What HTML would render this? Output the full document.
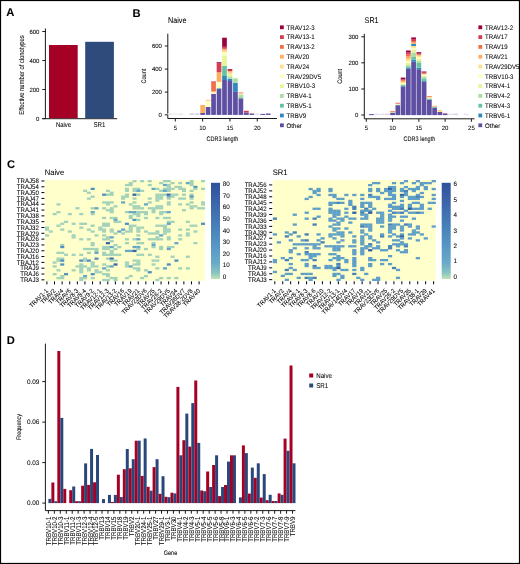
<!DOCTYPE html>
<html><head><meta charset="utf-8"><style>
html,body{margin:0;padding:0;background:#fff;}
body{width:520px;height:564px;overflow:hidden;}
svg{display:block;font-family:"Liberation Sans", sans-serif;will-change:transform;} text{stroke:#000;stroke-width:0.06px;}
</style></head><body>
<svg width="520" height="564" viewBox="0 0 520 564" shape-rendering="auto" text-rendering="geometricPrecision">
<rect x="0" y="0" width="520" height="564" fill="#fff"/>
<text transform="translate(6.30,16.40)" font-size="11.2" text-anchor="start" font-weight="bold" fill="#000">A</text>
<line x1="45.40" y1="28.50" x2="45.40" y2="118.70" stroke="#1a1a1a" stroke-width="1.0"/>
<line x1="42.30" y1="118.70" x2="117.20" y2="118.70" stroke="#1a1a1a" stroke-width="1.0"/>
<line x1="42.30" y1="31.50" x2="45.40" y2="31.50" stroke="#1a1a1a" stroke-width="1.0"/>
<text transform="translate(39.40,33.60) scale(0.97,1)" font-size="6.2" text-anchor="end" fill="#000">600</text>
<line x1="42.30" y1="60.50" x2="45.40" y2="60.50" stroke="#1a1a1a" stroke-width="1.0"/>
<text transform="translate(39.40,62.60) scale(0.97,1)" font-size="6.2" text-anchor="end" fill="#000">400</text>
<line x1="42.30" y1="89.50" x2="45.40" y2="89.50" stroke="#1a1a1a" stroke-width="1.0"/>
<text transform="translate(39.40,91.60) scale(0.97,1)" font-size="6.2" text-anchor="end" fill="#000">200</text>
<line x1="42.30" y1="118.60" x2="45.40" y2="118.60" stroke="#1a1a1a" stroke-width="1.0"/>
<text transform="translate(39.40,120.70) scale(0.97,1)" font-size="6.2" text-anchor="end" fill="#000">0</text>
<rect x="49.00" y="45.00" width="28.70" height="73.20" fill="#a50026"/>
<rect x="85.20" y="41.80" width="28.70" height="76.40" fill="#2f4b7c"/>
<text transform="translate(63.50,127.10) scale(0.85,1)" font-size="7.0" text-anchor="middle" fill="#000">Naive</text>
<text transform="translate(99.50,127.10) scale(0.88,1)" font-size="7.0" text-anchor="middle" fill="#000">SR1</text>
<text transform="translate(23.80,75.00) rotate(-90) scale(0.83,1)" font-size="7.0" text-anchor="middle" fill="#000">Effective number of clonotypes</text>
<text transform="translate(132.60,16.90)" font-size="11.2" text-anchor="start" font-weight="bold" fill="#000">B</text>
<text transform="translate(168.00,22.80) scale(0.88,1)" font-size="8.2" text-anchor="start" fill="#000">Naive</text>
<line x1="167.80" y1="33.70" x2="167.80" y2="118.50" stroke="#1a1a1a" stroke-width="1.0"/>
<line x1="167.80" y1="118.50" x2="277.00" y2="118.50" stroke="#1a1a1a" stroke-width="1.0"/>
<line x1="164.80" y1="46.00" x2="167.80" y2="46.00" stroke="#1a1a1a" stroke-width="1.0"/>
<text transform="translate(161.90,48.10) scale(0.97,1)" font-size="6.2" text-anchor="end" fill="#000">600</text>
<line x1="164.80" y1="69.10" x2="167.80" y2="69.10" stroke="#1a1a1a" stroke-width="1.0"/>
<text transform="translate(161.90,71.20) scale(0.97,1)" font-size="6.2" text-anchor="end" fill="#000">400</text>
<line x1="164.80" y1="92.10" x2="167.80" y2="92.10" stroke="#1a1a1a" stroke-width="1.0"/>
<text transform="translate(161.90,94.20) scale(0.97,1)" font-size="6.2" text-anchor="end" fill="#000">200</text>
<line x1="164.80" y1="114.80" x2="167.80" y2="114.80" stroke="#1a1a1a" stroke-width="1.0"/>
<text transform="translate(161.90,116.90) scale(0.97,1)" font-size="6.2" text-anchor="end" fill="#000">0</text>
<line x1="175.30" y1="118.50" x2="175.30" y2="121.50" stroke="#1a1a1a" stroke-width="1.0"/>
<text transform="translate(175.30,130.20) scale(0.97,1)" font-size="6.2" text-anchor="middle" fill="#000">5</text>
<line x1="202.62" y1="118.50" x2="202.62" y2="121.50" stroke="#1a1a1a" stroke-width="1.0"/>
<text transform="translate(202.62,130.20) scale(0.97,1)" font-size="6.2" text-anchor="middle" fill="#000">10</text>
<line x1="229.95" y1="118.50" x2="229.95" y2="121.50" stroke="#1a1a1a" stroke-width="1.0"/>
<text transform="translate(229.95,130.20) scale(0.97,1)" font-size="6.2" text-anchor="middle" fill="#000">15</text>
<line x1="257.27" y1="118.50" x2="257.27" y2="121.50" stroke="#1a1a1a" stroke-width="1.0"/>
<text transform="translate(257.27,130.20) scale(0.97,1)" font-size="6.2" text-anchor="middle" fill="#000">20</text>
<text transform="translate(222.40,140.90) scale(0.84,1)" font-size="6.6" text-anchor="middle" fill="#000">CDR3 length</text>
<text transform="translate(145.60,76.10) rotate(-90) scale(0.84,1)" font-size="6.6" text-anchor="middle" fill="#000">Count</text>
<rect x="167.49" y="113.40" width="4.70" height="1.50" fill="#e6e2f0"/>
<rect x="172.95" y="113.40" width="4.70" height="1.50" fill="#f2f0dc"/>
<rect x="178.42" y="113.40" width="4.70" height="1.50" fill="#e8e5f2"/>
<rect x="189.35" y="113.30" width="4.70" height="1.60" fill="#d6d2e8"/>
<rect x="194.81" y="113.30" width="4.70" height="1.60" fill="#d6d2e8"/>
<rect x="254.92" y="113.40" width="4.70" height="1.50" fill="#e3e0ef"/>
<rect x="200.28" y="113.00" width="4.70" height="1.90" fill="#5e4fa2"/>
<rect x="200.28" y="105.00" width="4.70" height="8.00" fill="#fdae61"/>
<rect x="205.74" y="107.00" width="4.70" height="7.90" fill="#5e4fa2"/>
<rect x="205.74" y="101.00" width="4.70" height="6.00" fill="#ffffbf"/>
<rect x="205.74" y="100.40" width="4.70" height="0.60" fill="#fee08b"/>
<rect x="205.74" y="99.80" width="4.70" height="0.60" fill="#fdae61"/>
<rect x="211.21" y="93.80" width="4.70" height="21.10" fill="#5e4fa2"/>
<rect x="211.21" y="92.50" width="4.70" height="1.30" fill="#ffffbf"/>
<rect x="211.21" y="91.40" width="4.70" height="1.10" fill="#fee08b"/>
<rect x="211.21" y="82.70" width="4.70" height="8.70" fill="#f46d43"/>
<rect x="211.21" y="81.40" width="4.70" height="1.30" fill="#d53e4f"/>
<rect x="216.67" y="88.70" width="4.70" height="26.20" fill="#5e4fa2"/>
<rect x="216.67" y="88.00" width="4.70" height="0.70" fill="#66c2a5"/>
<rect x="216.67" y="81.90" width="4.70" height="6.10" fill="#ffffbf"/>
<rect x="216.67" y="72.30" width="4.70" height="9.60" fill="#fdae61"/>
<rect x="216.67" y="63.50" width="4.70" height="8.80" fill="#d53e4f"/>
<rect x="216.67" y="62.20" width="4.70" height="1.30" fill="#9e0142"/>
<rect x="222.14" y="80.00" width="4.70" height="34.90" fill="#5e4fa2"/>
<rect x="222.14" y="76.00" width="4.70" height="4.00" fill="#3288bd"/>
<rect x="222.14" y="65.90" width="4.70" height="10.10" fill="#66c2a5"/>
<rect x="222.14" y="55.50" width="4.70" height="10.40" fill="#e6f598"/>
<rect x="222.14" y="52.30" width="4.70" height="3.20" fill="#ffffbf"/>
<rect x="222.14" y="50.70" width="4.70" height="1.60" fill="#fee08b"/>
<rect x="222.14" y="48.80" width="4.70" height="1.90" fill="#fdae61"/>
<rect x="222.14" y="46.80" width="4.70" height="2.00" fill="#d53e4f"/>
<rect x="222.14" y="37.70" width="4.70" height="9.10" fill="#9e0142"/>
<rect x="227.60" y="81.00" width="4.70" height="33.90" fill="#5e4fa2"/>
<rect x="227.60" y="78.70" width="4.70" height="2.30" fill="#3288bd"/>
<rect x="227.60" y="76.30" width="4.70" height="2.40" fill="#abdda4"/>
<rect x="227.60" y="74.30" width="4.70" height="2.00" fill="#e6f598"/>
<rect x="227.60" y="72.50" width="4.70" height="1.80" fill="#fee08b"/>
<rect x="227.60" y="71.00" width="4.70" height="1.50" fill="#fdae61"/>
<rect x="227.60" y="69.80" width="4.70" height="1.20" fill="#d53e4f"/>
<rect x="227.60" y="69.00" width="4.70" height="0.80" fill="#9e0142"/>
<rect x="233.07" y="91.90" width="4.70" height="23.00" fill="#5e4fa2"/>
<rect x="233.07" y="82.70" width="4.70" height="9.20" fill="#3288bd"/>
<rect x="233.07" y="78.20" width="4.70" height="4.50" fill="#abdda4"/>
<rect x="233.07" y="77.40" width="4.70" height="0.80" fill="#ffffbf"/>
<rect x="238.53" y="98.40" width="4.70" height="16.50" fill="#5e4fa2"/>
<rect x="238.53" y="97.20" width="4.70" height="1.20" fill="#66c2a5"/>
<rect x="238.53" y="94.50" width="4.70" height="2.70" fill="#abdda4"/>
<rect x="238.53" y="93.60" width="4.70" height="0.90" fill="#e6f598"/>
<rect x="238.53" y="93.00" width="4.70" height="0.60" fill="#fdae61"/>
<rect x="238.53" y="92.60" width="4.70" height="0.40" fill="#d53e4f"/>
<rect x="244.00" y="112.50" width="4.70" height="2.40" fill="#5e4fa2"/>
<rect x="244.00" y="110.80" width="4.70" height="1.70" fill="#d53e4f"/>
<rect x="249.46" y="113.40" width="4.70" height="1.50" fill="#5e4fa2"/>
<rect x="249.46" y="113.00" width="4.70" height="0.40" fill="#fdae61"/>
<rect x="260.39" y="113.90" width="4.70" height="1.00" fill="#5e4fa2"/>
<rect x="265.86" y="113.50" width="4.70" height="1.40" fill="#5e4fa2"/>
<rect x="280.00" y="25.40" width="3.80" height="3.80" fill="#9e0142"/>
<text transform="translate(286.60,29.50) scale(0.925,1)" font-size="6.6" text-anchor="start" fill="#000">TRAV12-3</text>
<rect x="280.00" y="35.20" width="3.80" height="3.80" fill="#d53e4f"/>
<text transform="translate(286.60,39.30) scale(0.925,1)" font-size="6.6" text-anchor="start" fill="#000">TRAV13-1</text>
<rect x="280.00" y="45.00" width="3.80" height="3.80" fill="#f46d43"/>
<text transform="translate(286.60,49.10) scale(0.925,1)" font-size="6.6" text-anchor="start" fill="#000">TRAV13-2</text>
<rect x="280.00" y="54.80" width="3.80" height="3.80" fill="#fdae61"/>
<text transform="translate(286.60,58.90) scale(0.925,1)" font-size="6.6" text-anchor="start" fill="#000">TRAV20</text>
<rect x="280.00" y="64.60" width="3.80" height="3.80" fill="#fee08b"/>
<text transform="translate(286.60,68.70) scale(0.925,1)" font-size="6.6" text-anchor="start" fill="#000">TRAV24</text>
<rect x="280.00" y="74.40" width="3.80" height="3.80" fill="#ffffbf"/>
<text transform="translate(286.60,78.50) scale(0.925,1)" font-size="6.6" text-anchor="start" fill="#000">TRAV29DV5</text>
<rect x="280.00" y="84.20" width="3.80" height="3.80" fill="#e6f598"/>
<text transform="translate(286.60,88.30) scale(0.925,1)" font-size="6.6" text-anchor="start" fill="#000">TRBV10-3</text>
<rect x="280.00" y="94.00" width="3.80" height="3.80" fill="#abdda4"/>
<text transform="translate(286.60,98.10) scale(0.925,1)" font-size="6.6" text-anchor="start" fill="#000">TRBV4-1</text>
<rect x="280.00" y="103.80" width="3.80" height="3.80" fill="#66c2a5"/>
<text transform="translate(286.60,107.90) scale(0.925,1)" font-size="6.6" text-anchor="start" fill="#000">TRBV5-1</text>
<rect x="280.00" y="113.60" width="3.80" height="3.80" fill="#3288bd"/>
<text transform="translate(286.60,117.70) scale(0.925,1)" font-size="6.6" text-anchor="start" fill="#000">TRBV9</text>
<rect x="280.00" y="123.40" width="3.80" height="3.80" fill="#5e4fa2"/>
<text transform="translate(286.60,127.50) scale(0.925,1)" font-size="6.6" text-anchor="start" fill="#000">Other</text>
<text transform="translate(364.60,22.80) scale(0.88,1)" font-size="8.2" text-anchor="start" fill="#000">SR1</text>
<line x1="364.30" y1="33.80" x2="364.30" y2="118.80" stroke="#1a1a1a" stroke-width="1.0"/>
<line x1="364.30" y1="118.80" x2="474.50" y2="118.80" stroke="#1a1a1a" stroke-width="1.0"/>
<line x1="361.30" y1="36.80" x2="364.30" y2="36.80" stroke="#1a1a1a" stroke-width="1.0"/>
<text transform="translate(358.40,38.90) scale(0.97,1)" font-size="6.2" text-anchor="end" fill="#000">300</text>
<line x1="361.30" y1="62.80" x2="364.30" y2="62.80" stroke="#1a1a1a" stroke-width="1.0"/>
<text transform="translate(358.40,64.90) scale(0.97,1)" font-size="6.2" text-anchor="end" fill="#000">200</text>
<line x1="361.30" y1="89.00" x2="364.30" y2="89.00" stroke="#1a1a1a" stroke-width="1.0"/>
<text transform="translate(358.40,91.10) scale(0.97,1)" font-size="6.2" text-anchor="end" fill="#000">100</text>
<line x1="361.30" y1="115.00" x2="364.30" y2="115.00" stroke="#1a1a1a" stroke-width="1.0"/>
<text transform="translate(358.40,117.10) scale(0.97,1)" font-size="6.2" text-anchor="end" fill="#000">0</text>
<line x1="366.30" y1="118.80" x2="366.30" y2="121.80" stroke="#1a1a1a" stroke-width="1.0"/>
<text transform="translate(366.30,130.20) scale(0.97,1)" font-size="6.2" text-anchor="middle" fill="#000">5</text>
<line x1="392.57" y1="118.80" x2="392.57" y2="121.80" stroke="#1a1a1a" stroke-width="1.0"/>
<text transform="translate(392.57,130.20) scale(0.97,1)" font-size="6.2" text-anchor="middle" fill="#000">10</text>
<line x1="418.85" y1="118.80" x2="418.85" y2="121.80" stroke="#1a1a1a" stroke-width="1.0"/>
<text transform="translate(418.85,130.20) scale(0.97,1)" font-size="6.2" text-anchor="middle" fill="#000">15</text>
<line x1="445.12" y1="118.80" x2="445.12" y2="121.80" stroke="#1a1a1a" stroke-width="1.0"/>
<text transform="translate(445.12,130.20) scale(0.97,1)" font-size="6.2" text-anchor="middle" fill="#000">20</text>
<line x1="471.40" y1="118.80" x2="471.40" y2="121.80" stroke="#1a1a1a" stroke-width="1.0"/>
<text transform="translate(471.40,130.20) scale(0.97,1)" font-size="6.2" text-anchor="middle" fill="#000">25</text>
<text transform="translate(419.40,140.90) scale(0.84,1)" font-size="6.6" text-anchor="middle" fill="#000">CDR3 length</text>
<text transform="translate(342.40,76.30) rotate(-90) scale(0.84,1)" font-size="6.6" text-anchor="middle" fill="#000">Count</text>
<rect x="374.46" y="113.60" width="4.70" height="1.50" fill="#e3e0ef"/>
<rect x="379.71" y="113.60" width="4.70" height="1.50" fill="#e3e0ef"/>
<rect x="384.97" y="113.50" width="4.70" height="1.60" fill="#ecd0da"/>
<rect x="448.03" y="113.60" width="4.70" height="1.50" fill="#e3e0ef"/>
<rect x="453.28" y="113.50" width="4.70" height="1.60" fill="#d8d4ea"/>
<rect x="463.79" y="113.60" width="4.70" height="1.50" fill="#e3e0ef"/>
<rect x="369.20" y="114.10" width="4.70" height="1.00" fill="#5e4fa2"/>
<rect x="390.22" y="113.00" width="4.70" height="2.10" fill="#5e4fa2"/>
<rect x="390.22" y="112.40" width="4.70" height="0.60" fill="#66c2a5"/>
<rect x="390.22" y="111.80" width="4.70" height="0.60" fill="#fee08b"/>
<rect x="390.22" y="111.00" width="4.70" height="0.80" fill="#f46d43"/>
<rect x="395.48" y="105.20" width="4.70" height="9.90" fill="#5e4fa2"/>
<rect x="395.48" y="104.60" width="4.70" height="0.60" fill="#66c2a5"/>
<rect x="395.48" y="104.00" width="4.70" height="0.60" fill="#ffffbf"/>
<rect x="395.48" y="103.40" width="4.70" height="0.60" fill="#fdae61"/>
<rect x="395.48" y="102.80" width="4.70" height="0.60" fill="#d53e4f"/>
<rect x="400.74" y="86.60" width="4.70" height="28.50" fill="#5e4fa2"/>
<rect x="400.74" y="86.00" width="4.70" height="0.60" fill="#3288bd"/>
<rect x="400.74" y="85.00" width="4.70" height="1.00" fill="#66c2a5"/>
<rect x="400.74" y="84.00" width="4.70" height="1.00" fill="#e6f598"/>
<rect x="400.74" y="83.00" width="4.70" height="1.00" fill="#ffffbf"/>
<rect x="400.74" y="82.00" width="4.70" height="1.00" fill="#fee08b"/>
<rect x="400.74" y="80.80" width="4.70" height="1.20" fill="#fdae61"/>
<rect x="400.74" y="79.50" width="4.70" height="1.30" fill="#f46d43"/>
<rect x="400.74" y="77.60" width="4.70" height="1.90" fill="#9e0142"/>
<rect x="405.99" y="68.70" width="4.70" height="46.40" fill="#5e4fa2"/>
<rect x="405.99" y="68.00" width="4.70" height="0.70" fill="#3288bd"/>
<rect x="405.99" y="67.00" width="4.70" height="1.00" fill="#66c2a5"/>
<rect x="405.99" y="65.00" width="4.70" height="2.00" fill="#abdda4"/>
<rect x="405.99" y="63.00" width="4.70" height="2.00" fill="#e6f598"/>
<rect x="405.99" y="61.00" width="4.70" height="2.00" fill="#ffffbf"/>
<rect x="405.99" y="58.80" width="4.70" height="2.20" fill="#fee08b"/>
<rect x="405.99" y="56.50" width="4.70" height="2.30" fill="#fdae61"/>
<rect x="405.99" y="54.50" width="4.70" height="2.00" fill="#f46d43"/>
<rect x="405.99" y="52.50" width="4.70" height="2.00" fill="#d53e4f"/>
<rect x="405.99" y="50.50" width="4.70" height="2.00" fill="#9e0142"/>
<rect x="411.25" y="61.80" width="4.70" height="53.30" fill="#5e4fa2"/>
<rect x="411.25" y="59.50" width="4.70" height="2.30" fill="#3288bd"/>
<rect x="411.25" y="57.00" width="4.70" height="2.50" fill="#66c2a5"/>
<rect x="411.25" y="52.50" width="4.70" height="4.50" fill="#abdda4"/>
<rect x="411.25" y="49.50" width="4.70" height="3.00" fill="#e6f598"/>
<rect x="411.25" y="47.80" width="4.70" height="1.70" fill="#ffffbf"/>
<rect x="411.25" y="46.00" width="4.70" height="1.80" fill="#fee08b"/>
<rect x="411.25" y="43.80" width="4.70" height="2.20" fill="#3288bd"/>
<rect x="411.25" y="42.50" width="4.70" height="1.30" fill="#fdae61"/>
<rect x="411.25" y="41.00" width="4.70" height="1.50" fill="#f46d43"/>
<rect x="411.25" y="39.00" width="4.70" height="2.00" fill="#d53e4f"/>
<rect x="411.25" y="37.40" width="4.70" height="1.60" fill="#9e0142"/>
<rect x="416.50" y="69.20" width="4.70" height="45.90" fill="#5e4fa2"/>
<rect x="416.50" y="67.80" width="4.70" height="1.40" fill="#3288bd"/>
<rect x="416.50" y="63.00" width="4.70" height="4.80" fill="#66c2a5"/>
<rect x="416.50" y="61.00" width="4.70" height="2.00" fill="#abdda4"/>
<rect x="416.50" y="58.50" width="4.70" height="2.50" fill="#e6f598"/>
<rect x="416.50" y="57.00" width="4.70" height="1.50" fill="#ffffbf"/>
<rect x="416.50" y="55.80" width="4.70" height="1.20" fill="#fee08b"/>
<rect x="416.50" y="54.80" width="4.70" height="1.00" fill="#fdae61"/>
<rect x="416.50" y="53.70" width="4.70" height="1.10" fill="#f46d43"/>
<rect x="416.50" y="52.20" width="4.70" height="1.50" fill="#9e0142"/>
<rect x="421.75" y="81.80" width="4.70" height="33.30" fill="#5e4fa2"/>
<rect x="421.75" y="81.00" width="4.70" height="0.80" fill="#3288bd"/>
<rect x="421.75" y="78.50" width="4.70" height="2.50" fill="#66c2a5"/>
<rect x="421.75" y="77.00" width="4.70" height="1.50" fill="#abdda4"/>
<rect x="421.75" y="75.80" width="4.70" height="1.20" fill="#e6f598"/>
<rect x="421.75" y="74.80" width="4.70" height="1.00" fill="#ffffbf"/>
<rect x="421.75" y="73.80" width="4.70" height="1.00" fill="#fee08b"/>
<rect x="421.75" y="72.60" width="4.70" height="1.20" fill="#f46d43"/>
<rect x="421.75" y="71.50" width="4.70" height="1.10" fill="#9e0142"/>
<rect x="427.01" y="99.60" width="4.70" height="15.50" fill="#5e4fa2"/>
<rect x="427.01" y="98.50" width="4.70" height="1.10" fill="#66c2a5"/>
<rect x="427.01" y="97.60" width="4.70" height="0.90" fill="#e6f598"/>
<rect x="427.01" y="96.80" width="4.70" height="0.80" fill="#fee08b"/>
<rect x="427.01" y="96.00" width="4.70" height="0.80" fill="#f46d43"/>
<rect x="432.26" y="107.60" width="4.70" height="7.50" fill="#5e4fa2"/>
<rect x="432.26" y="106.80" width="4.70" height="0.80" fill="#66c2a5"/>
<rect x="432.26" y="105.80" width="4.70" height="1.00" fill="#fdae61"/>
<rect x="437.52" y="111.90" width="4.70" height="3.20" fill="#5e4fa2"/>
<rect x="437.52" y="110.80" width="4.70" height="1.10" fill="#fee08b"/>
<rect x="437.52" y="110.20" width="4.70" height="0.60" fill="#fdae61"/>
<rect x="442.77" y="114.00" width="4.70" height="1.10" fill="#5e4fa2"/>
<rect x="442.77" y="113.50" width="4.70" height="0.50" fill="#9e0142"/>
<rect x="478.40" y="25.40" width="3.80" height="3.80" fill="#9e0142"/>
<text transform="translate(485.00,29.50) scale(0.925,1)" font-size="6.6" text-anchor="start" fill="#000">TRAV12-2</text>
<rect x="478.40" y="35.20" width="3.80" height="3.80" fill="#d53e4f"/>
<text transform="translate(485.00,39.30) scale(0.925,1)" font-size="6.6" text-anchor="start" fill="#000">TRAV17</text>
<rect x="478.40" y="45.00" width="3.80" height="3.80" fill="#f46d43"/>
<text transform="translate(485.00,49.10) scale(0.925,1)" font-size="6.6" text-anchor="start" fill="#000">TRAV19</text>
<rect x="478.40" y="54.80" width="3.80" height="3.80" fill="#fdae61"/>
<text transform="translate(485.00,58.90) scale(0.925,1)" font-size="6.6" text-anchor="start" fill="#000">TRAV21</text>
<rect x="478.40" y="64.60" width="3.80" height="3.80" fill="#fee08b"/>
<text transform="translate(485.00,68.70) scale(0.925,1)" font-size="6.6" text-anchor="start" fill="#000">TRAV29DV5</text>
<rect x="478.40" y="74.40" width="3.80" height="3.80" fill="#ffffbf"/>
<text transform="translate(485.00,78.50) scale(0.925,1)" font-size="6.6" text-anchor="start" fill="#000">TRBV10-3</text>
<rect x="478.40" y="84.20" width="3.80" height="3.80" fill="#e6f598"/>
<text transform="translate(485.00,88.30) scale(0.925,1)" font-size="6.6" text-anchor="start" fill="#000">TRBV4-1</text>
<rect x="478.40" y="94.00" width="3.80" height="3.80" fill="#abdda4"/>
<text transform="translate(485.00,98.10) scale(0.925,1)" font-size="6.6" text-anchor="start" fill="#000">TRBV4-2</text>
<rect x="478.40" y="103.80" width="3.80" height="3.80" fill="#66c2a5"/>
<text transform="translate(485.00,107.90) scale(0.925,1)" font-size="6.6" text-anchor="start" fill="#000">TRBV4-3</text>
<rect x="478.40" y="113.60" width="3.80" height="3.80" fill="#3288bd"/>
<text transform="translate(485.00,117.70) scale(0.925,1)" font-size="6.6" text-anchor="start" fill="#000">TRBV6-1</text>
<rect x="478.40" y="123.40" width="3.80" height="3.80" fill="#5e4fa2"/>
<text transform="translate(485.00,127.50) scale(0.925,1)" font-size="6.6" text-anchor="start" fill="#000">Other</text>
<text transform="translate(7.00,168.20)" font-size="11.2" text-anchor="start" font-weight="bold" fill="#000">C</text>
<text transform="translate(44.70,175.20) scale(0.95,1)" font-size="8.0" text-anchor="start" fill="#000">Naive</text>
<rect x="45.00" y="180.00" width="159.80" height="100.80" fill="#ffffcc"/>
<rect x="132.51" y="180.00" width="4.05" height="2.29" fill="#a2d2ba"/>
<rect x="140.12" y="180.00" width="4.05" height="2.29" fill="#a2d2ba"/>
<rect x="147.73" y="180.00" width="4.05" height="2.29" fill="#a2d2ba"/>
<rect x="162.95" y="180.00" width="4.05" height="2.29" fill="#a2d2ba"/>
<rect x="166.75" y="180.00" width="4.05" height="2.29" fill="#a2d2ba"/>
<rect x="189.58" y="180.00" width="4.05" height="2.29" fill="#a2d2ba"/>
<rect x="201.00" y="180.00" width="4.05" height="2.29" fill="#a2d2ba"/>
<rect x="128.70" y="181.94" width="4.05" height="2.29" fill="#a2d2ba"/>
<rect x="159.14" y="181.94" width="4.05" height="2.29" fill="#a2d2ba"/>
<rect x="170.56" y="181.94" width="4.05" height="2.29" fill="#a2d2ba"/>
<rect x="178.17" y="181.94" width="4.05" height="2.29" fill="#a2d2ba"/>
<rect x="185.78" y="181.94" width="4.05" height="2.29" fill="#66a6c8"/>
<rect x="189.58" y="181.94" width="4.05" height="2.29" fill="#a2d2ba"/>
<rect x="124.90" y="183.88" width="4.05" height="2.29" fill="#a2d2ba"/>
<rect x="128.70" y="183.88" width="4.05" height="2.29" fill="#a2d2ba"/>
<rect x="147.73" y="183.88" width="4.05" height="2.29" fill="#a2d2ba"/>
<rect x="162.95" y="183.88" width="4.05" height="2.29" fill="#66a6c8"/>
<rect x="166.75" y="183.88" width="4.05" height="2.29" fill="#a2d2ba"/>
<rect x="189.58" y="183.88" width="4.05" height="2.29" fill="#a2d2ba"/>
<rect x="166.75" y="185.82" width="4.05" height="2.29" fill="#a2d2ba"/>
<rect x="174.36" y="185.82" width="4.05" height="2.29" fill="#a2d2ba"/>
<rect x="178.17" y="185.82" width="4.05" height="2.29" fill="#a2d2ba"/>
<rect x="193.39" y="185.82" width="4.05" height="2.29" fill="#5290c1"/>
<rect x="90.66" y="187.75" width="4.05" height="2.29" fill="#5290c1"/>
<rect x="124.90" y="187.75" width="4.05" height="2.29" fill="#a2d2ba"/>
<rect x="132.51" y="187.75" width="4.05" height="2.29" fill="#a2d2ba"/>
<rect x="136.31" y="187.75" width="4.05" height="2.29" fill="#a2d2ba"/>
<rect x="151.53" y="187.75" width="4.05" height="2.29" fill="#66a6c8"/>
<rect x="155.34" y="187.75" width="4.05" height="2.29" fill="#a2d2ba"/>
<rect x="162.95" y="187.75" width="4.05" height="2.29" fill="#a2d2ba"/>
<rect x="166.75" y="187.75" width="4.05" height="2.29" fill="#a2d2ba"/>
<rect x="170.56" y="187.75" width="4.05" height="2.29" fill="#a2d2ba"/>
<rect x="178.17" y="187.75" width="4.05" height="2.29" fill="#a2d2ba"/>
<rect x="181.97" y="187.75" width="4.05" height="2.29" fill="#a2d2ba"/>
<rect x="193.39" y="187.75" width="4.05" height="2.29" fill="#a2d2ba"/>
<rect x="201.00" y="187.75" width="4.05" height="2.29" fill="#a2d2ba"/>
<rect x="83.05" y="189.69" width="4.05" height="2.29" fill="#a2d2ba"/>
<rect x="105.88" y="189.69" width="4.05" height="2.29" fill="#a2d2ba"/>
<rect x="124.90" y="189.69" width="4.05" height="2.29" fill="#a2d2ba"/>
<rect x="132.51" y="189.69" width="4.05" height="2.29" fill="#a2d2ba"/>
<rect x="136.31" y="189.69" width="4.05" height="2.29" fill="#66a6c8"/>
<rect x="140.12" y="189.69" width="4.05" height="2.29" fill="#a2d2ba"/>
<rect x="159.14" y="189.69" width="4.05" height="2.29" fill="#a2d2ba"/>
<rect x="162.95" y="189.69" width="4.05" height="2.29" fill="#66a6c8"/>
<rect x="166.75" y="189.69" width="4.05" height="2.29" fill="#a2d2ba"/>
<rect x="181.97" y="189.69" width="4.05" height="2.29" fill="#a2d2ba"/>
<rect x="189.58" y="189.69" width="4.05" height="2.29" fill="#a2d2ba"/>
<rect x="86.85" y="191.63" width="4.05" height="2.29" fill="#a2d2ba"/>
<rect x="109.68" y="191.63" width="4.05" height="2.29" fill="#a2d2ba"/>
<rect x="102.07" y="193.57" width="4.05" height="2.29" fill="#5290c1"/>
<rect x="105.88" y="193.57" width="4.05" height="2.29" fill="#a2d2ba"/>
<rect x="109.68" y="193.57" width="4.05" height="2.29" fill="#a2d2ba"/>
<rect x="124.90" y="193.57" width="4.05" height="2.29" fill="#a2d2ba"/>
<rect x="132.51" y="193.57" width="4.05" height="2.29" fill="#3b65a9"/>
<rect x="136.31" y="193.57" width="4.05" height="2.29" fill="#a2d2ba"/>
<rect x="155.34" y="193.57" width="4.05" height="2.29" fill="#a2d2ba"/>
<rect x="159.14" y="193.57" width="4.05" height="2.29" fill="#a2d2ba"/>
<rect x="162.95" y="193.57" width="4.05" height="2.29" fill="#a2d2ba"/>
<rect x="166.75" y="193.57" width="4.05" height="2.29" fill="#3b65a9"/>
<rect x="170.56" y="193.57" width="4.05" height="2.29" fill="#a2d2ba"/>
<rect x="174.36" y="193.57" width="4.05" height="2.29" fill="#a2d2ba"/>
<rect x="181.97" y="193.57" width="4.05" height="2.29" fill="#a2d2ba"/>
<rect x="189.58" y="193.57" width="4.05" height="2.29" fill="#a2d2ba"/>
<rect x="90.66" y="195.51" width="4.05" height="2.29" fill="#a2d2ba"/>
<rect x="121.10" y="195.51" width="4.05" height="2.29" fill="#a2d2ba"/>
<rect x="124.90" y="195.51" width="4.05" height="2.29" fill="#a2d2ba"/>
<rect x="155.34" y="195.51" width="4.05" height="2.29" fill="#a2d2ba"/>
<rect x="159.14" y="195.51" width="4.05" height="2.29" fill="#a2d2ba"/>
<rect x="166.75" y="195.51" width="4.05" height="2.29" fill="#66a6c8"/>
<rect x="170.56" y="195.51" width="4.05" height="2.29" fill="#a2d2ba"/>
<rect x="189.58" y="195.51" width="4.05" height="2.29" fill="#5290c1"/>
<rect x="86.85" y="197.45" width="4.05" height="2.29" fill="#a2d2ba"/>
<rect x="121.10" y="197.45" width="4.05" height="2.29" fill="#a2d2ba"/>
<rect x="132.51" y="197.45" width="4.05" height="2.29" fill="#a2d2ba"/>
<rect x="147.73" y="197.45" width="4.05" height="2.29" fill="#a2d2ba"/>
<rect x="155.34" y="197.45" width="4.05" height="2.29" fill="#a2d2ba"/>
<rect x="159.14" y="197.45" width="4.05" height="2.29" fill="#a2d2ba"/>
<rect x="166.75" y="197.45" width="4.05" height="2.29" fill="#a2d2ba"/>
<rect x="178.17" y="197.45" width="4.05" height="2.29" fill="#a2d2ba"/>
<rect x="181.97" y="197.45" width="4.05" height="2.29" fill="#a2d2ba"/>
<rect x="189.58" y="197.45" width="4.05" height="2.29" fill="#a2d2ba"/>
<rect x="155.34" y="199.38" width="4.05" height="2.29" fill="#a2d2ba"/>
<rect x="102.07" y="201.32" width="4.05" height="2.29" fill="#a2d2ba"/>
<rect x="105.88" y="201.32" width="4.05" height="2.29" fill="#a2d2ba"/>
<rect x="109.68" y="201.32" width="4.05" height="2.29" fill="#a2d2ba"/>
<rect x="121.10" y="201.32" width="4.05" height="2.29" fill="#66a6c8"/>
<rect x="132.51" y="201.32" width="4.05" height="2.29" fill="#a2d2ba"/>
<rect x="147.73" y="201.32" width="4.05" height="2.29" fill="#a2d2ba"/>
<rect x="166.75" y="201.32" width="4.05" height="2.29" fill="#a2d2ba"/>
<rect x="189.58" y="201.32" width="4.05" height="2.29" fill="#a2d2ba"/>
<rect x="201.00" y="201.32" width="4.05" height="2.29" fill="#a2d2ba"/>
<rect x="56.41" y="203.26" width="4.05" height="2.29" fill="#a2d2ba"/>
<rect x="105.88" y="203.26" width="4.05" height="2.29" fill="#a2d2ba"/>
<rect x="128.70" y="203.26" width="4.05" height="2.29" fill="#a2d2ba"/>
<rect x="143.92" y="203.26" width="4.05" height="2.29" fill="#66a6c8"/>
<rect x="166.75" y="203.26" width="4.05" height="2.29" fill="#a2d2ba"/>
<rect x="178.17" y="203.26" width="4.05" height="2.29" fill="#a2d2ba"/>
<rect x="185.78" y="203.26" width="4.05" height="2.29" fill="#a2d2ba"/>
<rect x="201.00" y="203.26" width="4.05" height="2.29" fill="#a2d2ba"/>
<rect x="113.49" y="205.20" width="4.05" height="2.29" fill="#a2d2ba"/>
<rect x="132.51" y="205.20" width="4.05" height="2.29" fill="#a2d2ba"/>
<rect x="136.31" y="205.20" width="4.05" height="2.29" fill="#a2d2ba"/>
<rect x="155.34" y="205.20" width="4.05" height="2.29" fill="#a2d2ba"/>
<rect x="159.14" y="205.20" width="4.05" height="2.29" fill="#a2d2ba"/>
<rect x="189.58" y="205.20" width="4.05" height="2.29" fill="#a2d2ba"/>
<rect x="193.39" y="205.20" width="4.05" height="2.29" fill="#a2d2ba"/>
<rect x="75.44" y="207.14" width="4.05" height="2.29" fill="#a2d2ba"/>
<rect x="90.66" y="207.14" width="4.05" height="2.29" fill="#a2d2ba"/>
<rect x="94.46" y="207.14" width="4.05" height="2.29" fill="#66a6c8"/>
<rect x="102.07" y="207.14" width="4.05" height="2.29" fill="#a2d2ba"/>
<rect x="109.68" y="207.14" width="4.05" height="2.29" fill="#a2d2ba"/>
<rect x="132.51" y="207.14" width="4.05" height="2.29" fill="#a2d2ba"/>
<rect x="136.31" y="207.14" width="4.05" height="2.29" fill="#a2d2ba"/>
<rect x="140.12" y="207.14" width="4.05" height="2.29" fill="#a2d2ba"/>
<rect x="147.73" y="207.14" width="4.05" height="2.29" fill="#a2d2ba"/>
<rect x="151.53" y="207.14" width="4.05" height="2.29" fill="#a2d2ba"/>
<rect x="155.34" y="207.14" width="4.05" height="2.29" fill="#a2d2ba"/>
<rect x="159.14" y="207.14" width="4.05" height="2.29" fill="#a2d2ba"/>
<rect x="189.58" y="207.14" width="4.05" height="2.29" fill="#a2d2ba"/>
<rect x="197.19" y="207.14" width="4.05" height="2.29" fill="#a2d2ba"/>
<rect x="201.00" y="207.14" width="4.05" height="2.29" fill="#a2d2ba"/>
<rect x="105.88" y="209.08" width="4.05" height="2.29" fill="#a2d2ba"/>
<rect x="109.68" y="209.08" width="4.05" height="2.29" fill="#a2d2ba"/>
<rect x="151.53" y="209.08" width="4.05" height="2.29" fill="#a2d2ba"/>
<rect x="181.97" y="209.08" width="4.05" height="2.29" fill="#a2d2ba"/>
<rect x="56.41" y="211.02" width="4.05" height="2.29" fill="#a2d2ba"/>
<rect x="90.66" y="211.02" width="4.05" height="2.29" fill="#66a6c8"/>
<rect x="109.68" y="211.02" width="4.05" height="2.29" fill="#a2d2ba"/>
<rect x="124.90" y="211.02" width="4.05" height="2.29" fill="#a2d2ba"/>
<rect x="128.70" y="211.02" width="4.05" height="2.29" fill="#66a6c8"/>
<rect x="132.51" y="211.02" width="4.05" height="2.29" fill="#66a6c8"/>
<rect x="136.31" y="211.02" width="4.05" height="2.29" fill="#a2d2ba"/>
<rect x="140.12" y="211.02" width="4.05" height="2.29" fill="#a2d2ba"/>
<rect x="143.92" y="211.02" width="4.05" height="2.29" fill="#a2d2ba"/>
<rect x="151.53" y="211.02" width="4.05" height="2.29" fill="#a2d2ba"/>
<rect x="159.14" y="211.02" width="4.05" height="2.29" fill="#a2d2ba"/>
<rect x="162.95" y="211.02" width="4.05" height="2.29" fill="#a2d2ba"/>
<rect x="166.75" y="211.02" width="4.05" height="2.29" fill="#66a6c8"/>
<rect x="52.61" y="212.95" width="4.05" height="2.29" fill="#a2d2ba"/>
<rect x="67.83" y="212.95" width="4.05" height="2.29" fill="#a2d2ba"/>
<rect x="79.24" y="212.95" width="4.05" height="2.29" fill="#a2d2ba"/>
<rect x="90.66" y="212.95" width="4.05" height="2.29" fill="#a2d2ba"/>
<rect x="132.51" y="212.95" width="4.05" height="2.29" fill="#a2d2ba"/>
<rect x="136.31" y="212.95" width="4.05" height="2.29" fill="#a2d2ba"/>
<rect x="143.92" y="212.95" width="4.05" height="2.29" fill="#a2d2ba"/>
<rect x="159.14" y="212.95" width="4.05" height="2.29" fill="#a2d2ba"/>
<rect x="128.70" y="214.89" width="4.05" height="2.29" fill="#a2d2ba"/>
<rect x="136.31" y="214.89" width="4.05" height="2.29" fill="#a2d2ba"/>
<rect x="102.07" y="216.83" width="4.05" height="2.29" fill="#a2d2ba"/>
<rect x="109.68" y="216.83" width="4.05" height="2.29" fill="#a2d2ba"/>
<rect x="113.49" y="216.83" width="4.05" height="2.29" fill="#a2d2ba"/>
<rect x="128.70" y="216.83" width="4.05" height="2.29" fill="#a2d2ba"/>
<rect x="143.92" y="216.83" width="4.05" height="2.29" fill="#a2d2ba"/>
<rect x="155.34" y="216.83" width="4.05" height="2.29" fill="#a2d2ba"/>
<rect x="162.95" y="216.83" width="4.05" height="2.29" fill="#a2d2ba"/>
<rect x="166.75" y="216.83" width="4.05" height="2.29" fill="#a2d2ba"/>
<rect x="113.49" y="218.77" width="4.05" height="2.29" fill="#66a6c8"/>
<rect x="132.51" y="218.77" width="4.05" height="2.29" fill="#5290c1"/>
<rect x="136.31" y="218.77" width="4.05" height="2.29" fill="#a2d2ba"/>
<rect x="64.02" y="220.71" width="4.05" height="2.29" fill="#a2d2ba"/>
<rect x="113.49" y="220.71" width="4.05" height="2.29" fill="#a2d2ba"/>
<rect x="117.29" y="220.71" width="4.05" height="2.29" fill="#a2d2ba"/>
<rect x="166.75" y="220.71" width="4.05" height="2.29" fill="#a2d2ba"/>
<rect x="170.56" y="220.71" width="4.05" height="2.29" fill="#a2d2ba"/>
<rect x="185.78" y="220.71" width="4.05" height="2.29" fill="#a2d2ba"/>
<rect x="60.22" y="222.65" width="4.05" height="2.29" fill="#a2d2ba"/>
<rect x="71.63" y="222.65" width="4.05" height="2.29" fill="#a2d2ba"/>
<rect x="79.24" y="222.65" width="4.05" height="2.29" fill="#a2d2ba"/>
<rect x="83.05" y="222.65" width="4.05" height="2.29" fill="#a2d2ba"/>
<rect x="102.07" y="222.65" width="4.05" height="2.29" fill="#a2d2ba"/>
<rect x="105.88" y="222.65" width="4.05" height="2.29" fill="#a2d2ba"/>
<rect x="124.90" y="222.65" width="4.05" height="2.29" fill="#5290c1"/>
<rect x="166.75" y="222.65" width="4.05" height="2.29" fill="#66a6c8"/>
<rect x="201.00" y="222.65" width="4.05" height="2.29" fill="#5290c1"/>
<rect x="56.41" y="224.58" width="4.05" height="2.29" fill="#a2d2ba"/>
<rect x="90.66" y="224.58" width="4.05" height="2.29" fill="#a2d2ba"/>
<rect x="102.07" y="224.58" width="4.05" height="2.29" fill="#a2d2ba"/>
<rect x="105.88" y="224.58" width="4.05" height="2.29" fill="#a2d2ba"/>
<rect x="128.70" y="224.58" width="4.05" height="2.29" fill="#a2d2ba"/>
<rect x="132.51" y="224.58" width="4.05" height="2.29" fill="#a2d2ba"/>
<rect x="155.34" y="224.58" width="4.05" height="2.29" fill="#a2d2ba"/>
<rect x="159.14" y="224.58" width="4.05" height="2.29" fill="#a2d2ba"/>
<rect x="162.95" y="224.58" width="4.05" height="2.29" fill="#a2d2ba"/>
<rect x="189.58" y="224.58" width="4.05" height="2.29" fill="#a2d2ba"/>
<rect x="193.39" y="224.58" width="4.05" height="2.29" fill="#a2d2ba"/>
<rect x="45.00" y="226.52" width="4.05" height="2.29" fill="#a2d2ba"/>
<rect x="79.24" y="226.52" width="4.05" height="2.29" fill="#a2d2ba"/>
<rect x="98.27" y="226.52" width="4.05" height="2.29" fill="#a2d2ba"/>
<rect x="128.70" y="226.52" width="4.05" height="2.29" fill="#a2d2ba"/>
<rect x="136.31" y="226.52" width="4.05" height="2.29" fill="#a2d2ba"/>
<rect x="140.12" y="226.52" width="4.05" height="2.29" fill="#a2d2ba"/>
<rect x="162.95" y="226.52" width="4.05" height="2.29" fill="#a2d2ba"/>
<rect x="45.00" y="228.46" width="4.05" height="2.29" fill="#a2d2ba"/>
<rect x="60.22" y="228.46" width="4.05" height="2.29" fill="#a2d2ba"/>
<rect x="86.85" y="228.46" width="4.05" height="2.29" fill="#a2d2ba"/>
<rect x="98.27" y="228.46" width="4.05" height="2.29" fill="#a2d2ba"/>
<rect x="102.07" y="228.46" width="4.05" height="2.29" fill="#a2d2ba"/>
<rect x="109.68" y="228.46" width="4.05" height="2.29" fill="#a2d2ba"/>
<rect x="121.10" y="228.46" width="4.05" height="2.29" fill="#66a6c8"/>
<rect x="128.70" y="228.46" width="4.05" height="2.29" fill="#a2d2ba"/>
<rect x="136.31" y="228.46" width="4.05" height="2.29" fill="#a2d2ba"/>
<rect x="162.95" y="228.46" width="4.05" height="2.29" fill="#a2d2ba"/>
<rect x="166.75" y="228.46" width="4.05" height="2.29" fill="#a2d2ba"/>
<rect x="178.17" y="228.46" width="4.05" height="2.29" fill="#a2d2ba"/>
<rect x="185.78" y="228.46" width="4.05" height="2.29" fill="#a2d2ba"/>
<rect x="48.80" y="230.40" width="4.05" height="2.29" fill="#a2d2ba"/>
<rect x="67.83" y="230.40" width="4.05" height="2.29" fill="#a2d2ba"/>
<rect x="90.66" y="230.40" width="4.05" height="2.29" fill="#a2d2ba"/>
<rect x="102.07" y="230.40" width="4.05" height="2.29" fill="#a2d2ba"/>
<rect x="109.68" y="230.40" width="4.05" height="2.29" fill="#a2d2ba"/>
<rect x="117.29" y="230.40" width="4.05" height="2.29" fill="#66a6c8"/>
<rect x="124.90" y="230.40" width="4.05" height="2.29" fill="#a2d2ba"/>
<rect x="128.70" y="230.40" width="4.05" height="2.29" fill="#a2d2ba"/>
<rect x="136.31" y="230.40" width="4.05" height="2.29" fill="#a2d2ba"/>
<rect x="143.92" y="230.40" width="4.05" height="2.29" fill="#a2d2ba"/>
<rect x="155.34" y="230.40" width="4.05" height="2.29" fill="#a2d2ba"/>
<rect x="162.95" y="230.40" width="4.05" height="2.29" fill="#a2d2ba"/>
<rect x="166.75" y="230.40" width="4.05" height="2.29" fill="#a2d2ba"/>
<rect x="193.39" y="230.40" width="4.05" height="2.29" fill="#a2d2ba"/>
<rect x="113.49" y="232.34" width="4.05" height="2.29" fill="#a2d2ba"/>
<rect x="121.10" y="232.34" width="4.05" height="2.29" fill="#a2d2ba"/>
<rect x="147.73" y="232.34" width="4.05" height="2.29" fill="#a2d2ba"/>
<rect x="151.53" y="232.34" width="4.05" height="2.29" fill="#a2d2ba"/>
<rect x="155.34" y="232.34" width="4.05" height="2.29" fill="#a2d2ba"/>
<rect x="162.95" y="232.34" width="4.05" height="2.29" fill="#a2d2ba"/>
<rect x="185.78" y="232.34" width="4.05" height="2.29" fill="#a2d2ba"/>
<rect x="45.00" y="234.28" width="4.05" height="2.29" fill="#a2d2ba"/>
<rect x="71.63" y="234.28" width="4.05" height="2.29" fill="#a2d2ba"/>
<rect x="94.46" y="234.28" width="4.05" height="2.29" fill="#a2d2ba"/>
<rect x="102.07" y="234.28" width="4.05" height="2.29" fill="#a2d2ba"/>
<rect x="136.31" y="234.28" width="4.05" height="2.29" fill="#a2d2ba"/>
<rect x="159.14" y="234.28" width="4.05" height="2.29" fill="#66a6c8"/>
<rect x="178.17" y="234.28" width="4.05" height="2.29" fill="#a2d2ba"/>
<rect x="185.78" y="234.28" width="4.05" height="2.29" fill="#a2d2ba"/>
<rect x="71.63" y="236.22" width="4.05" height="2.29" fill="#a2d2ba"/>
<rect x="105.88" y="236.22" width="4.05" height="2.29" fill="#a2d2ba"/>
<rect x="109.68" y="236.22" width="4.05" height="2.29" fill="#66a6c8"/>
<rect x="155.34" y="236.22" width="4.05" height="2.29" fill="#a2d2ba"/>
<rect x="166.75" y="236.22" width="4.05" height="2.29" fill="#a2d2ba"/>
<rect x="79.24" y="238.15" width="4.05" height="2.29" fill="#a2d2ba"/>
<rect x="86.85" y="238.15" width="4.05" height="2.29" fill="#a2d2ba"/>
<rect x="102.07" y="238.15" width="4.05" height="2.29" fill="#a2d2ba"/>
<rect x="105.88" y="238.15" width="4.05" height="2.29" fill="#a2d2ba"/>
<rect x="124.90" y="238.15" width="4.05" height="2.29" fill="#a2d2ba"/>
<rect x="132.51" y="238.15" width="4.05" height="2.29" fill="#a2d2ba"/>
<rect x="136.31" y="238.15" width="4.05" height="2.29" fill="#66a6c8"/>
<rect x="147.73" y="238.15" width="4.05" height="2.29" fill="#a2d2ba"/>
<rect x="151.53" y="238.15" width="4.05" height="2.29" fill="#a2d2ba"/>
<rect x="155.34" y="238.15" width="4.05" height="2.29" fill="#a2d2ba"/>
<rect x="159.14" y="238.15" width="4.05" height="2.29" fill="#a2d2ba"/>
<rect x="166.75" y="238.15" width="4.05" height="2.29" fill="#a2d2ba"/>
<rect x="178.17" y="238.15" width="4.05" height="2.29" fill="#a2d2ba"/>
<rect x="109.68" y="240.09" width="4.05" height="2.29" fill="#a2d2ba"/>
<rect x="90.66" y="242.03" width="4.05" height="2.29" fill="#a2d2ba"/>
<rect x="105.88" y="242.03" width="4.05" height="2.29" fill="#3b65a9"/>
<rect x="124.90" y="242.03" width="4.05" height="2.29" fill="#a2d2ba"/>
<rect x="136.31" y="242.03" width="4.05" height="2.29" fill="#a2d2ba"/>
<rect x="140.12" y="242.03" width="4.05" height="2.29" fill="#a2d2ba"/>
<rect x="151.53" y="242.03" width="4.05" height="2.29" fill="#a2d2ba"/>
<rect x="174.36" y="242.03" width="4.05" height="2.29" fill="#66a6c8"/>
<rect x="193.39" y="242.03" width="4.05" height="2.29" fill="#a2d2ba"/>
<rect x="60.22" y="243.97" width="4.05" height="2.29" fill="#a2d2ba"/>
<rect x="90.66" y="243.97" width="4.05" height="2.29" fill="#a2d2ba"/>
<rect x="113.49" y="243.97" width="4.05" height="2.29" fill="#a2d2ba"/>
<rect x="151.53" y="243.97" width="4.05" height="2.29" fill="#66a6c8"/>
<rect x="60.22" y="245.91" width="4.05" height="2.29" fill="#5290c1"/>
<rect x="102.07" y="245.91" width="4.05" height="2.29" fill="#a2d2ba"/>
<rect x="105.88" y="245.91" width="4.05" height="2.29" fill="#a2d2ba"/>
<rect x="109.68" y="245.91" width="4.05" height="2.29" fill="#66a6c8"/>
<rect x="117.29" y="245.91" width="4.05" height="2.29" fill="#a2d2ba"/>
<rect x="132.51" y="245.91" width="4.05" height="2.29" fill="#66a6c8"/>
<rect x="136.31" y="245.91" width="4.05" height="2.29" fill="#66a6c8"/>
<rect x="151.53" y="245.91" width="4.05" height="2.29" fill="#a2d2ba"/>
<rect x="159.14" y="245.91" width="4.05" height="2.29" fill="#a2d2ba"/>
<rect x="166.75" y="245.91" width="4.05" height="2.29" fill="#a2d2ba"/>
<rect x="170.56" y="245.91" width="4.05" height="2.29" fill="#a2d2ba"/>
<rect x="83.05" y="247.85" width="4.05" height="2.29" fill="#a2d2ba"/>
<rect x="86.85" y="247.85" width="4.05" height="2.29" fill="#a2d2ba"/>
<rect x="90.66" y="247.85" width="4.05" height="2.29" fill="#a2d2ba"/>
<rect x="94.46" y="247.85" width="4.05" height="2.29" fill="#a2d2ba"/>
<rect x="102.07" y="247.85" width="4.05" height="2.29" fill="#a2d2ba"/>
<rect x="105.88" y="247.85" width="4.05" height="2.29" fill="#a2d2ba"/>
<rect x="113.49" y="247.85" width="4.05" height="2.29" fill="#a2d2ba"/>
<rect x="136.31" y="247.85" width="4.05" height="2.29" fill="#a2d2ba"/>
<rect x="143.92" y="247.85" width="4.05" height="2.29" fill="#a2d2ba"/>
<rect x="159.14" y="247.85" width="4.05" height="2.29" fill="#a2d2ba"/>
<rect x="166.75" y="247.85" width="4.05" height="2.29" fill="#66a6c8"/>
<rect x="94.46" y="249.78" width="4.05" height="2.29" fill="#a2d2ba"/>
<rect x="109.68" y="249.78" width="4.05" height="2.29" fill="#a2d2ba"/>
<rect x="124.90" y="249.78" width="4.05" height="2.29" fill="#66a6c8"/>
<rect x="128.70" y="249.78" width="4.05" height="2.29" fill="#66a6c8"/>
<rect x="132.51" y="249.78" width="4.05" height="2.29" fill="#3b65a9"/>
<rect x="56.41" y="251.72" width="4.05" height="2.29" fill="#a2d2ba"/>
<rect x="60.22" y="251.72" width="4.05" height="2.29" fill="#a2d2ba"/>
<rect x="86.85" y="251.72" width="4.05" height="2.29" fill="#a2d2ba"/>
<rect x="94.46" y="251.72" width="4.05" height="2.29" fill="#66a6c8"/>
<rect x="102.07" y="251.72" width="4.05" height="2.29" fill="#a2d2ba"/>
<rect x="109.68" y="251.72" width="4.05" height="2.29" fill="#a2d2ba"/>
<rect x="64.02" y="253.66" width="4.05" height="2.29" fill="#a2d2ba"/>
<rect x="71.63" y="253.66" width="4.05" height="2.29" fill="#a2d2ba"/>
<rect x="79.24" y="253.66" width="4.05" height="2.29" fill="#a2d2ba"/>
<rect x="102.07" y="253.66" width="4.05" height="2.29" fill="#a2d2ba"/>
<rect x="105.88" y="253.66" width="4.05" height="2.29" fill="#a2d2ba"/>
<rect x="109.68" y="253.66" width="4.05" height="2.29" fill="#a2d2ba"/>
<rect x="113.49" y="253.66" width="4.05" height="2.29" fill="#a2d2ba"/>
<rect x="117.29" y="253.66" width="4.05" height="2.29" fill="#a2d2ba"/>
<rect x="136.31" y="253.66" width="4.05" height="2.29" fill="#a2d2ba"/>
<rect x="140.12" y="253.66" width="4.05" height="2.29" fill="#a2d2ba"/>
<rect x="147.73" y="253.66" width="4.05" height="2.29" fill="#a2d2ba"/>
<rect x="155.34" y="255.60" width="4.05" height="2.29" fill="#a2d2ba"/>
<rect x="170.56" y="255.60" width="4.05" height="2.29" fill="#a2d2ba"/>
<rect x="185.78" y="255.60" width="4.05" height="2.29" fill="#a2d2ba"/>
<rect x="56.41" y="257.54" width="4.05" height="2.29" fill="#a2d2ba"/>
<rect x="60.22" y="257.54" width="4.05" height="2.29" fill="#a2d2ba"/>
<rect x="83.05" y="257.54" width="4.05" height="2.29" fill="#a2d2ba"/>
<rect x="94.46" y="257.54" width="4.05" height="2.29" fill="#5290c1"/>
<rect x="105.88" y="257.54" width="4.05" height="2.29" fill="#a2d2ba"/>
<rect x="109.68" y="257.54" width="4.05" height="2.29" fill="#3b65a9"/>
<rect x="56.41" y="259.48" width="4.05" height="2.29" fill="#a2d2ba"/>
<rect x="60.22" y="259.48" width="4.05" height="2.29" fill="#5290c1"/>
<rect x="79.24" y="259.48" width="4.05" height="2.29" fill="#5290c1"/>
<rect x="83.05" y="259.48" width="4.05" height="2.29" fill="#a2d2ba"/>
<rect x="86.85" y="259.48" width="4.05" height="2.29" fill="#5290c1"/>
<rect x="109.68" y="259.48" width="4.05" height="2.29" fill="#a2d2ba"/>
<rect x="113.49" y="259.48" width="4.05" height="2.29" fill="#a2d2ba"/>
<rect x="132.51" y="259.48" width="4.05" height="2.29" fill="#a2d2ba"/>
<rect x="136.31" y="259.48" width="4.05" height="2.29" fill="#a2d2ba"/>
<rect x="151.53" y="259.48" width="4.05" height="2.29" fill="#a2d2ba"/>
<rect x="155.34" y="259.48" width="4.05" height="2.29" fill="#a2d2ba"/>
<rect x="174.36" y="259.48" width="4.05" height="2.29" fill="#5290c1"/>
<rect x="52.61" y="261.42" width="4.05" height="2.29" fill="#a2d2ba"/>
<rect x="90.66" y="261.42" width="4.05" height="2.29" fill="#a2d2ba"/>
<rect x="124.90" y="261.42" width="4.05" height="2.29" fill="#a2d2ba"/>
<rect x="136.31" y="261.42" width="4.05" height="2.29" fill="#a2d2ba"/>
<rect x="60.22" y="263.35" width="4.05" height="2.29" fill="#5290c1"/>
<rect x="79.24" y="263.35" width="4.05" height="2.29" fill="#a2d2ba"/>
<rect x="90.66" y="263.35" width="4.05" height="2.29" fill="#a2d2ba"/>
<rect x="102.07" y="263.35" width="4.05" height="2.29" fill="#a2d2ba"/>
<rect x="113.49" y="263.35" width="4.05" height="2.29" fill="#3b65a9"/>
<rect x="124.90" y="263.35" width="4.05" height="2.29" fill="#a2d2ba"/>
<rect x="132.51" y="263.35" width="4.05" height="2.29" fill="#a2d2ba"/>
<rect x="136.31" y="263.35" width="4.05" height="2.29" fill="#a2d2ba"/>
<rect x="151.53" y="263.35" width="4.05" height="2.29" fill="#a2d2ba"/>
<rect x="166.75" y="263.35" width="4.05" height="2.29" fill="#5290c1"/>
<rect x="52.61" y="265.29" width="4.05" height="2.29" fill="#a2d2ba"/>
<rect x="75.44" y="265.29" width="4.05" height="2.29" fill="#a2d2ba"/>
<rect x="79.24" y="265.29" width="4.05" height="2.29" fill="#a2d2ba"/>
<rect x="83.05" y="265.29" width="4.05" height="2.29" fill="#a2d2ba"/>
<rect x="90.66" y="265.29" width="4.05" height="2.29" fill="#a2d2ba"/>
<rect x="94.46" y="265.29" width="4.05" height="2.29" fill="#a2d2ba"/>
<rect x="105.88" y="265.29" width="4.05" height="2.29" fill="#a2d2ba"/>
<rect x="109.68" y="265.29" width="4.05" height="2.29" fill="#66a6c8"/>
<rect x="124.90" y="265.29" width="4.05" height="2.29" fill="#a2d2ba"/>
<rect x="128.70" y="265.29" width="4.05" height="2.29" fill="#66a6c8"/>
<rect x="79.24" y="267.23" width="4.05" height="2.29" fill="#a2d2ba"/>
<rect x="86.85" y="267.23" width="4.05" height="2.29" fill="#a2d2ba"/>
<rect x="102.07" y="267.23" width="4.05" height="2.29" fill="#66a6c8"/>
<rect x="132.51" y="267.23" width="4.05" height="2.29" fill="#a2d2ba"/>
<rect x="136.31" y="267.23" width="4.05" height="2.29" fill="#a2d2ba"/>
<rect x="155.34" y="267.23" width="4.05" height="2.29" fill="#a2d2ba"/>
<rect x="162.95" y="267.23" width="4.05" height="2.29" fill="#66a6c8"/>
<rect x="178.17" y="267.23" width="4.05" height="2.29" fill="#a2d2ba"/>
<rect x="185.78" y="267.23" width="4.05" height="2.29" fill="#a2d2ba"/>
<rect x="56.41" y="269.17" width="4.05" height="2.29" fill="#a2d2ba"/>
<rect x="71.63" y="269.17" width="4.05" height="2.29" fill="#a2d2ba"/>
<rect x="79.24" y="269.17" width="4.05" height="2.29" fill="#a2d2ba"/>
<rect x="86.85" y="269.17" width="4.05" height="2.29" fill="#a2d2ba"/>
<rect x="94.46" y="269.17" width="4.05" height="2.29" fill="#a2d2ba"/>
<rect x="105.88" y="269.17" width="4.05" height="2.29" fill="#a2d2ba"/>
<rect x="136.31" y="269.17" width="4.05" height="2.29" fill="#a2d2ba"/>
<rect x="143.92" y="269.17" width="4.05" height="2.29" fill="#a2d2ba"/>
<rect x="79.24" y="271.11" width="4.05" height="2.29" fill="#a2d2ba"/>
<rect x="94.46" y="271.11" width="4.05" height="2.29" fill="#a2d2ba"/>
<rect x="98.27" y="271.11" width="4.05" height="2.29" fill="#a2d2ba"/>
<rect x="147.73" y="271.11" width="4.05" height="2.29" fill="#5290c1"/>
<rect x="52.61" y="273.05" width="4.05" height="2.29" fill="#a2d2ba"/>
<rect x="64.02" y="273.05" width="4.05" height="2.29" fill="#5290c1"/>
<rect x="90.66" y="273.05" width="4.05" height="2.29" fill="#5290c1"/>
<rect x="102.07" y="273.05" width="4.05" height="2.29" fill="#a2d2ba"/>
<rect x="105.88" y="273.05" width="4.05" height="2.29" fill="#a2d2ba"/>
<rect x="60.22" y="274.98" width="4.05" height="2.29" fill="#a2d2ba"/>
<rect x="83.05" y="274.98" width="4.05" height="2.29" fill="#66a6c8"/>
<rect x="105.88" y="274.98" width="4.05" height="2.29" fill="#a2d2ba"/>
<rect x="128.70" y="274.98" width="4.05" height="2.29" fill="#a2d2ba"/>
<rect x="143.92" y="274.98" width="4.05" height="2.29" fill="#a2d2ba"/>
<rect x="56.41" y="276.92" width="4.05" height="2.29" fill="#a2d2ba"/>
<rect x="60.22" y="276.92" width="4.05" height="2.29" fill="#a2d2ba"/>
<rect x="79.24" y="276.92" width="4.05" height="2.29" fill="#a2d2ba"/>
<rect x="83.05" y="276.92" width="4.05" height="2.29" fill="#a2d2ba"/>
<rect x="90.66" y="276.92" width="4.05" height="2.29" fill="#a2d2ba"/>
<rect x="109.68" y="276.92" width="4.05" height="2.29" fill="#a2d2ba"/>
<rect x="113.49" y="276.92" width="4.05" height="2.29" fill="#a2d2ba"/>
<rect x="124.90" y="276.92" width="4.05" height="2.29" fill="#a2d2ba"/>
<rect x="140.12" y="276.92" width="4.05" height="2.29" fill="#a2d2ba"/>
<rect x="159.14" y="276.92" width="4.05" height="2.29" fill="#a2d2ba"/>
<rect x="166.75" y="276.92" width="4.05" height="2.29" fill="#a2d2ba"/>
<rect x="174.36" y="276.92" width="4.05" height="2.29" fill="#a2d2ba"/>
<rect x="79.24" y="278.86" width="4.05" height="2.29" fill="#a2d2ba"/>
<rect x="102.07" y="278.86" width="4.05" height="2.29" fill="#a2d2ba"/>
<rect x="105.88" y="278.86" width="4.05" height="2.29" fill="#a2d2ba"/>
<rect x="113.49" y="278.86" width="4.05" height="2.29" fill="#a2d2ba"/>
<rect x="155.34" y="278.86" width="4.05" height="2.29" fill="#a2d2ba"/>
<line x1="41.40" y1="180.97" x2="44.40" y2="180.97" stroke="#000" stroke-width="1.0"/>
<text transform="translate(38.80,183.17) scale(0.95,1)" font-size="6.4" text-anchor="end" fill="#000">TRAJ58</text>
<line x1="41.40" y1="186.78" x2="44.40" y2="186.78" stroke="#000" stroke-width="1.0"/>
<text transform="translate(38.80,188.98) scale(0.95,1)" font-size="6.4" text-anchor="end" fill="#000">TRAJ54</text>
<line x1="41.40" y1="192.60" x2="44.40" y2="192.60" stroke="#000" stroke-width="1.0"/>
<text transform="translate(38.80,194.80) scale(0.95,1)" font-size="6.4" text-anchor="end" fill="#000">TRAJ50</text>
<line x1="41.40" y1="198.42" x2="44.40" y2="198.42" stroke="#000" stroke-width="1.0"/>
<text transform="translate(38.80,200.62) scale(0.95,1)" font-size="6.4" text-anchor="end" fill="#000">TRAJ47</text>
<line x1="41.40" y1="204.23" x2="44.40" y2="204.23" stroke="#000" stroke-width="1.0"/>
<text transform="translate(38.80,206.43) scale(0.95,1)" font-size="6.4" text-anchor="end" fill="#000">TRAJ44</text>
<line x1="41.40" y1="210.05" x2="44.40" y2="210.05" stroke="#000" stroke-width="1.0"/>
<text transform="translate(38.80,212.25) scale(0.95,1)" font-size="6.4" text-anchor="end" fill="#000">TRAJ41</text>
<line x1="41.40" y1="215.86" x2="44.40" y2="215.86" stroke="#000" stroke-width="1.0"/>
<text transform="translate(38.80,218.06) scale(0.95,1)" font-size="6.4" text-anchor="end" fill="#000">TRAJ38</text>
<line x1="41.40" y1="221.68" x2="44.40" y2="221.68" stroke="#000" stroke-width="1.0"/>
<text transform="translate(38.80,223.88) scale(0.95,1)" font-size="6.4" text-anchor="end" fill="#000">TRAJ35</text>
<line x1="41.40" y1="227.49" x2="44.40" y2="227.49" stroke="#000" stroke-width="1.0"/>
<text transform="translate(38.80,229.69) scale(0.95,1)" font-size="6.4" text-anchor="end" fill="#000">TRAJ32</text>
<line x1="41.40" y1="233.31" x2="44.40" y2="233.31" stroke="#000" stroke-width="1.0"/>
<text transform="translate(38.80,235.51) scale(0.95,1)" font-size="6.4" text-anchor="end" fill="#000">TRAJ29</text>
<line x1="41.40" y1="239.12" x2="44.40" y2="239.12" stroke="#000" stroke-width="1.0"/>
<text transform="translate(38.80,241.32) scale(0.95,1)" font-size="6.4" text-anchor="end" fill="#000">TRAJ26</text>
<line x1="41.40" y1="244.94" x2="44.40" y2="244.94" stroke="#000" stroke-width="1.0"/>
<text transform="translate(38.80,247.14) scale(0.95,1)" font-size="6.4" text-anchor="end" fill="#000">TRAJ23</text>
<line x1="41.40" y1="250.75" x2="44.40" y2="250.75" stroke="#000" stroke-width="1.0"/>
<text transform="translate(38.80,252.95) scale(0.95,1)" font-size="6.4" text-anchor="end" fill="#000">TRAJ20</text>
<line x1="41.40" y1="256.57" x2="44.40" y2="256.57" stroke="#000" stroke-width="1.0"/>
<text transform="translate(38.80,258.77) scale(0.95,1)" font-size="6.4" text-anchor="end" fill="#000">TRAJ16</text>
<line x1="41.40" y1="262.38" x2="44.40" y2="262.38" stroke="#000" stroke-width="1.0"/>
<text transform="translate(38.80,264.58) scale(0.95,1)" font-size="6.4" text-anchor="end" fill="#000">TRAJ12</text>
<line x1="41.40" y1="268.20" x2="44.40" y2="268.20" stroke="#000" stroke-width="1.0"/>
<text transform="translate(38.80,270.40) scale(0.95,1)" font-size="6.4" text-anchor="end" fill="#000">TRAJ9</text>
<line x1="41.40" y1="274.02" x2="44.40" y2="274.02" stroke="#000" stroke-width="1.0"/>
<text transform="translate(38.80,276.22) scale(0.95,1)" font-size="6.4" text-anchor="end" fill="#000">TRAJ6</text>
<line x1="41.40" y1="279.83" x2="44.40" y2="279.83" stroke="#000" stroke-width="1.0"/>
<text transform="translate(38.80,282.03) scale(0.95,1)" font-size="6.4" text-anchor="end" fill="#000">TRAJ3</text>
<line x1="46.90" y1="281.40" x2="46.90" y2="284.40" stroke="#000" stroke-width="1.0"/>
<text transform="translate(48.50,291.30) rotate(-45) scale(0.95,1)" font-size="6.2" text-anchor="end" fill="#000">TRAV1-1</text>
<line x1="54.51" y1="281.40" x2="54.51" y2="284.40" stroke="#000" stroke-width="1.0"/>
<text transform="translate(56.11,291.30) rotate(-45) scale(0.95,1)" font-size="6.2" text-anchor="end" fill="#000">TRAV2</text>
<line x1="62.12" y1="281.40" x2="62.12" y2="284.40" stroke="#000" stroke-width="1.0"/>
<text transform="translate(63.72,291.30) rotate(-45) scale(0.95,1)" font-size="6.2" text-anchor="end" fill="#000">TRAV4</text>
<line x1="69.73" y1="281.40" x2="69.73" y2="284.40" stroke="#000" stroke-width="1.0"/>
<text transform="translate(71.33,291.30) rotate(-45) scale(0.95,1)" font-size="6.2" text-anchor="end" fill="#000">TRAV6</text>
<line x1="77.34" y1="281.40" x2="77.34" y2="284.40" stroke="#000" stroke-width="1.0"/>
<text transform="translate(78.94,291.30) rotate(-45) scale(0.95,1)" font-size="6.2" text-anchor="end" fill="#000">TRAV8-3</text>
<line x1="84.95" y1="281.40" x2="84.95" y2="284.40" stroke="#000" stroke-width="1.0"/>
<text transform="translate(86.55,291.30) rotate(-45) scale(0.95,1)" font-size="6.2" text-anchor="end" fill="#000">TRAV8-4</text>
<line x1="92.56" y1="281.40" x2="92.56" y2="284.40" stroke="#000" stroke-width="1.0"/>
<text transform="translate(94.16,291.30) rotate(-45) scale(0.95,1)" font-size="6.2" text-anchor="end" fill="#000">TRAV9-2</text>
<line x1="100.17" y1="281.40" x2="100.17" y2="284.40" stroke="#000" stroke-width="1.0"/>
<text transform="translate(101.77,291.30) rotate(-45) scale(0.95,1)" font-size="6.2" text-anchor="end" fill="#000">TRAV12-1</text>
<line x1="107.78" y1="281.40" x2="107.78" y2="284.40" stroke="#000" stroke-width="1.0"/>
<text transform="translate(109.38,291.30) rotate(-45) scale(0.95,1)" font-size="6.2" text-anchor="end" fill="#000">TRAV12-3</text>
<line x1="115.39" y1="281.40" x2="115.39" y2="284.40" stroke="#000" stroke-width="1.0"/>
<text transform="translate(116.99,291.30) rotate(-45) scale(0.95,1)" font-size="6.2" text-anchor="end" fill="#000">TRAV13-2</text>
<line x1="123.00" y1="281.40" x2="123.00" y2="284.40" stroke="#000" stroke-width="1.0"/>
<text transform="translate(124.60,291.30) rotate(-45) scale(0.95,1)" font-size="6.2" text-anchor="end" fill="#000">TRAV16</text>
<line x1="130.61" y1="281.40" x2="130.61" y2="284.40" stroke="#000" stroke-width="1.0"/>
<text transform="translate(132.21,291.30) rotate(-45) scale(0.95,1)" font-size="6.2" text-anchor="end" fill="#000">TRAV19</text>
<line x1="138.22" y1="281.40" x2="138.22" y2="284.40" stroke="#000" stroke-width="1.0"/>
<text transform="translate(139.82,291.30) rotate(-45) scale(0.95,1)" font-size="6.2" text-anchor="end" fill="#000">TRAV21</text>
<line x1="145.83" y1="281.40" x2="145.83" y2="284.40" stroke="#000" stroke-width="1.0"/>
<text transform="translate(147.43,291.30) rotate(-45) scale(0.95,1)" font-size="6.2" text-anchor="end" fill="#000">TRAV23DV6</text>
<line x1="153.44" y1="281.40" x2="153.44" y2="284.40" stroke="#000" stroke-width="1.0"/>
<text transform="translate(155.04,291.30) rotate(-45) scale(0.95,1)" font-size="6.2" text-anchor="end" fill="#000">TRAV25</text>
<line x1="161.05" y1="281.40" x2="161.05" y2="284.40" stroke="#000" stroke-width="1.0"/>
<text transform="translate(162.65,291.30) rotate(-45) scale(0.95,1)" font-size="6.2" text-anchor="end" fill="#000">TRAV26-2</text>
<line x1="168.65" y1="281.40" x2="168.65" y2="284.40" stroke="#000" stroke-width="1.0"/>
<text transform="translate(170.25,291.30) rotate(-45) scale(0.95,1)" font-size="6.2" text-anchor="end" fill="#000">TRAV29DV5</text>
<line x1="176.26" y1="281.40" x2="176.26" y2="284.40" stroke="#000" stroke-width="1.0"/>
<text transform="translate(177.86,291.30) rotate(-45) scale(0.95,1)" font-size="6.2" text-anchor="end" fill="#000">TRAV34</text>
<line x1="183.87" y1="281.40" x2="183.87" y2="284.40" stroke="#000" stroke-width="1.0"/>
<text transform="translate(185.47,291.30) rotate(-45) scale(0.95,1)" font-size="6.2" text-anchor="end" fill="#000">TRAV36DV7</text>
<line x1="191.48" y1="281.40" x2="191.48" y2="284.40" stroke="#000" stroke-width="1.0"/>
<text transform="translate(193.08,291.30) rotate(-45) scale(0.95,1)" font-size="6.2" text-anchor="end" fill="#000">TRAV38-2DV8</text>
<line x1="199.09" y1="281.40" x2="199.09" y2="284.40" stroke="#000" stroke-width="1.0"/>
<text transform="translate(200.69,291.30) rotate(-45) scale(0.95,1)" font-size="6.2" text-anchor="end" fill="#000">TRAV40</text>
<defs><linearGradient id="gNaive" x1="0" y1="1" x2="0" y2="0"><stop offset="0.0" stop-color="#c3e3b3"/><stop offset="0.06" stop-color="#8ac6bf"/><stop offset="0.17" stop-color="#69a9c8"/><stop offset="0.33" stop-color="#5898c6"/><stop offset="0.5" stop-color="#4a85bb"/><stop offset="0.75" stop-color="#3e6aac"/><stop offset="1.0" stop-color="#30509c"/></linearGradient></defs>
<rect x="211.00" y="182.80" width="9.00" height="96.20" fill="url(#gNaive)"/>
<text transform="translate(222.80,278.90) scale(0.97,1)" font-size="6.5" text-anchor="start" fill="#000">0</text>
<text transform="translate(222.80,267.30) scale(0.97,1)" font-size="6.5" text-anchor="start" fill="#000">10</text>
<text transform="translate(222.80,255.70) scale(0.97,1)" font-size="6.5" text-anchor="start" fill="#000">20</text>
<text transform="translate(222.80,244.10) scale(0.97,1)" font-size="6.5" text-anchor="start" fill="#000">30</text>
<text transform="translate(222.80,232.50) scale(0.97,1)" font-size="6.5" text-anchor="start" fill="#000">40</text>
<text transform="translate(222.80,220.90) scale(0.97,1)" font-size="6.5" text-anchor="start" fill="#000">50</text>
<text transform="translate(222.80,209.30) scale(0.97,1)" font-size="6.5" text-anchor="start" fill="#000">60</text>
<text transform="translate(222.80,197.70) scale(0.97,1)" font-size="6.5" text-anchor="start" fill="#000">70</text>
<text transform="translate(222.80,186.10) scale(0.97,1)" font-size="6.5" text-anchor="start" fill="#000">80</text>
<text transform="translate(272.70,175.20) scale(0.95,1)" font-size="8.0" text-anchor="start" fill="#000">SR1</text>
<rect x="272.80" y="180.00" width="162.80" height="100.66" fill="#ffffcc"/>
<rect x="403.83" y="180.00" width="4.22" height="2.32" fill="#5f9fc7"/>
<rect x="415.75" y="180.00" width="4.22" height="2.32" fill="#5f9fc7"/>
<rect x="431.63" y="180.00" width="4.22" height="2.32" fill="#5f9fc7"/>
<rect x="372.07" y="181.97" width="4.22" height="2.32" fill="#5f9fc7"/>
<rect x="376.04" y="181.97" width="4.22" height="2.32" fill="#5f9fc7"/>
<rect x="391.92" y="181.97" width="4.22" height="2.32" fill="#5f9fc7"/>
<rect x="399.86" y="181.97" width="4.22" height="2.32" fill="#5f9fc7"/>
<rect x="411.78" y="181.97" width="4.22" height="2.32" fill="#5f9fc7"/>
<rect x="419.72" y="181.97" width="4.22" height="2.32" fill="#5f9fc7"/>
<rect x="423.69" y="181.97" width="4.22" height="2.32" fill="#5f9fc7"/>
<rect x="427.66" y="181.97" width="4.22" height="2.32" fill="#5f9fc7"/>
<rect x="368.10" y="183.95" width="4.22" height="2.32" fill="#5f9fc7"/>
<rect x="419.72" y="183.95" width="4.22" height="2.32" fill="#5f9fc7"/>
<rect x="387.95" y="185.92" width="4.22" height="2.32" fill="#5f9fc7"/>
<rect x="391.92" y="185.92" width="4.22" height="2.32" fill="#5f9fc7"/>
<rect x="403.83" y="185.92" width="4.22" height="2.32" fill="#5f9fc7"/>
<rect x="415.75" y="185.92" width="4.22" height="2.32" fill="#5f9fc7"/>
<rect x="423.69" y="185.92" width="4.22" height="2.32" fill="#5f9fc7"/>
<rect x="308.54" y="187.89" width="4.22" height="2.32" fill="#5f9fc7"/>
<rect x="316.48" y="187.89" width="4.22" height="2.32" fill="#5f9fc7"/>
<rect x="328.39" y="187.89" width="4.22" height="2.32" fill="#5f9fc7"/>
<rect x="368.10" y="187.89" width="4.22" height="2.32" fill="#5f9fc7"/>
<rect x="376.04" y="187.89" width="4.22" height="2.32" fill="#5f9fc7"/>
<rect x="383.98" y="187.89" width="4.22" height="2.32" fill="#5f9fc7"/>
<rect x="387.95" y="187.89" width="4.22" height="2.32" fill="#3860a6"/>
<rect x="391.92" y="187.89" width="4.22" height="2.32" fill="#5f9fc7"/>
<rect x="399.86" y="187.89" width="4.22" height="2.32" fill="#5f9fc7"/>
<rect x="407.80" y="187.89" width="4.22" height="2.32" fill="#5f9fc7"/>
<rect x="411.78" y="187.89" width="4.22" height="2.32" fill="#5f9fc7"/>
<rect x="415.75" y="187.89" width="4.22" height="2.32" fill="#5f9fc7"/>
<rect x="423.69" y="187.89" width="4.22" height="2.32" fill="#5f9fc7"/>
<rect x="431.63" y="187.89" width="4.22" height="2.32" fill="#5f9fc7"/>
<rect x="312.51" y="189.87" width="4.22" height="2.32" fill="#5f9fc7"/>
<rect x="316.48" y="189.87" width="4.22" height="2.32" fill="#5f9fc7"/>
<rect x="328.39" y="189.87" width="4.22" height="2.32" fill="#5f9fc7"/>
<rect x="368.10" y="189.87" width="4.22" height="2.32" fill="#5f9fc7"/>
<rect x="376.04" y="189.87" width="4.22" height="2.32" fill="#5f9fc7"/>
<rect x="383.98" y="189.87" width="4.22" height="2.32" fill="#5f9fc7"/>
<rect x="387.95" y="189.87" width="4.22" height="2.32" fill="#5f9fc7"/>
<rect x="391.92" y="189.87" width="4.22" height="2.32" fill="#5f9fc7"/>
<rect x="399.86" y="189.87" width="4.22" height="2.32" fill="#5f9fc7"/>
<rect x="403.83" y="189.87" width="4.22" height="2.32" fill="#4880b8"/>
<rect x="411.78" y="189.87" width="4.22" height="2.32" fill="#5f9fc7"/>
<rect x="312.51" y="191.84" width="4.22" height="2.32" fill="#5f9fc7"/>
<rect x="380.01" y="191.84" width="4.22" height="2.32" fill="#5f9fc7"/>
<rect x="387.95" y="191.84" width="4.22" height="2.32" fill="#5f9fc7"/>
<rect x="403.83" y="191.84" width="4.22" height="2.32" fill="#5f9fc7"/>
<rect x="419.72" y="191.84" width="4.22" height="2.32" fill="#5f9fc7"/>
<rect x="316.48" y="193.82" width="4.22" height="2.32" fill="#5f9fc7"/>
<rect x="328.39" y="193.82" width="4.22" height="2.32" fill="#5f9fc7"/>
<rect x="332.36" y="193.82" width="4.22" height="2.32" fill="#5f9fc7"/>
<rect x="344.27" y="193.82" width="4.22" height="2.32" fill="#5f9fc7"/>
<rect x="352.21" y="193.82" width="4.22" height="2.32" fill="#5f9fc7"/>
<rect x="360.16" y="193.82" width="4.22" height="2.32" fill="#5f9fc7"/>
<rect x="368.10" y="193.82" width="4.22" height="2.32" fill="#4880b8"/>
<rect x="387.95" y="193.82" width="4.22" height="2.32" fill="#5f9fc7"/>
<rect x="391.92" y="193.82" width="4.22" height="2.32" fill="#5f9fc7"/>
<rect x="399.86" y="193.82" width="4.22" height="2.32" fill="#3860a6"/>
<rect x="403.83" y="193.82" width="4.22" height="2.32" fill="#5f9fc7"/>
<rect x="415.75" y="193.82" width="4.22" height="2.32" fill="#5f9fc7"/>
<rect x="431.63" y="193.82" width="4.22" height="2.32" fill="#5f9fc7"/>
<rect x="308.54" y="195.79" width="4.22" height="2.32" fill="#5f9fc7"/>
<rect x="332.36" y="195.79" width="4.22" height="2.32" fill="#5f9fc7"/>
<rect x="368.10" y="195.79" width="4.22" height="2.32" fill="#5f9fc7"/>
<rect x="372.07" y="195.79" width="4.22" height="2.32" fill="#5f9fc7"/>
<rect x="376.04" y="195.79" width="4.22" height="2.32" fill="#5f9fc7"/>
<rect x="391.92" y="195.79" width="4.22" height="2.32" fill="#5f9fc7"/>
<rect x="399.86" y="195.79" width="4.22" height="2.32" fill="#5f9fc7"/>
<rect x="407.80" y="195.79" width="4.22" height="2.32" fill="#5f9fc7"/>
<rect x="411.78" y="195.79" width="4.22" height="2.32" fill="#5f9fc7"/>
<rect x="415.75" y="195.79" width="4.22" height="2.32" fill="#4880b8"/>
<rect x="419.72" y="195.79" width="4.22" height="2.32" fill="#5f9fc7"/>
<rect x="304.57" y="197.76" width="4.22" height="2.32" fill="#5f9fc7"/>
<rect x="336.33" y="197.76" width="4.22" height="2.32" fill="#5f9fc7"/>
<rect x="340.30" y="197.76" width="4.22" height="2.32" fill="#5f9fc7"/>
<rect x="360.16" y="197.76" width="4.22" height="2.32" fill="#5f9fc7"/>
<rect x="376.04" y="197.76" width="4.22" height="2.32" fill="#5f9fc7"/>
<rect x="383.98" y="197.76" width="4.22" height="2.32" fill="#5f9fc7"/>
<rect x="387.95" y="197.76" width="4.22" height="2.32" fill="#5f9fc7"/>
<rect x="391.92" y="197.76" width="4.22" height="2.32" fill="#5f9fc7"/>
<rect x="407.80" y="197.76" width="4.22" height="2.32" fill="#5f9fc7"/>
<rect x="411.78" y="197.76" width="4.22" height="2.32" fill="#5f9fc7"/>
<rect x="415.75" y="197.76" width="4.22" height="2.32" fill="#5f9fc7"/>
<rect x="431.63" y="197.76" width="4.22" height="2.32" fill="#5f9fc7"/>
<rect x="348.24" y="199.74" width="4.22" height="2.32" fill="#5f9fc7"/>
<rect x="399.86" y="199.74" width="4.22" height="2.32" fill="#5f9fc7"/>
<rect x="328.39" y="201.71" width="4.22" height="2.32" fill="#5f9fc7"/>
<rect x="332.36" y="201.71" width="4.22" height="2.32" fill="#5f9fc7"/>
<rect x="336.33" y="201.71" width="4.22" height="2.32" fill="#4880b8"/>
<rect x="340.30" y="201.71" width="4.22" height="2.32" fill="#5f9fc7"/>
<rect x="348.24" y="201.71" width="4.22" height="2.32" fill="#5f9fc7"/>
<rect x="360.16" y="201.71" width="4.22" height="2.32" fill="#5f9fc7"/>
<rect x="364.13" y="201.71" width="4.22" height="2.32" fill="#5f9fc7"/>
<rect x="368.10" y="201.71" width="4.22" height="2.32" fill="#5f9fc7"/>
<rect x="391.92" y="201.71" width="4.22" height="2.32" fill="#5f9fc7"/>
<rect x="411.78" y="201.71" width="4.22" height="2.32" fill="#5f9fc7"/>
<rect x="415.75" y="201.71" width="4.22" height="2.32" fill="#5f9fc7"/>
<rect x="427.66" y="201.71" width="4.22" height="2.32" fill="#5f9fc7"/>
<rect x="431.63" y="201.71" width="4.22" height="2.32" fill="#5f9fc7"/>
<rect x="328.39" y="203.68" width="4.22" height="2.32" fill="#5f9fc7"/>
<rect x="348.24" y="203.68" width="4.22" height="2.32" fill="#5f9fc7"/>
<rect x="360.16" y="203.68" width="4.22" height="2.32" fill="#5f9fc7"/>
<rect x="368.10" y="203.68" width="4.22" height="2.32" fill="#5f9fc7"/>
<rect x="387.95" y="203.68" width="4.22" height="2.32" fill="#5f9fc7"/>
<rect x="399.86" y="203.68" width="4.22" height="2.32" fill="#5f9fc7"/>
<rect x="407.80" y="203.68" width="4.22" height="2.32" fill="#5f9fc7"/>
<rect x="419.72" y="203.68" width="4.22" height="2.32" fill="#5f9fc7"/>
<rect x="352.21" y="205.66" width="4.22" height="2.32" fill="#4880b8"/>
<rect x="360.16" y="205.66" width="4.22" height="2.32" fill="#5f9fc7"/>
<rect x="368.10" y="205.66" width="4.22" height="2.32" fill="#5f9fc7"/>
<rect x="387.95" y="205.66" width="4.22" height="2.32" fill="#5f9fc7"/>
<rect x="391.92" y="205.66" width="4.22" height="2.32" fill="#5f9fc7"/>
<rect x="395.89" y="205.66" width="4.22" height="2.32" fill="#5f9fc7"/>
<rect x="399.86" y="205.66" width="4.22" height="2.32" fill="#5f9fc7"/>
<rect x="407.80" y="205.66" width="4.22" height="2.32" fill="#5f9fc7"/>
<rect x="419.72" y="205.66" width="4.22" height="2.32" fill="#5f9fc7"/>
<rect x="312.51" y="207.63" width="4.22" height="2.32" fill="#5f9fc7"/>
<rect x="316.48" y="207.63" width="4.22" height="2.32" fill="#5f9fc7"/>
<rect x="328.39" y="207.63" width="4.22" height="2.32" fill="#5f9fc7"/>
<rect x="344.27" y="207.63" width="4.22" height="2.32" fill="#5f9fc7"/>
<rect x="352.21" y="207.63" width="4.22" height="2.32" fill="#4880b8"/>
<rect x="364.13" y="207.63" width="4.22" height="2.32" fill="#4880b8"/>
<rect x="372.07" y="207.63" width="4.22" height="2.32" fill="#5f9fc7"/>
<rect x="391.92" y="207.63" width="4.22" height="2.32" fill="#5f9fc7"/>
<rect x="395.89" y="207.63" width="4.22" height="2.32" fill="#5f9fc7"/>
<rect x="399.86" y="207.63" width="4.22" height="2.32" fill="#4880b8"/>
<rect x="407.80" y="207.63" width="4.22" height="2.32" fill="#3860a6"/>
<rect x="411.78" y="207.63" width="4.22" height="2.32" fill="#5f9fc7"/>
<rect x="415.75" y="207.63" width="4.22" height="2.32" fill="#5f9fc7"/>
<rect x="419.72" y="207.63" width="4.22" height="2.32" fill="#5f9fc7"/>
<rect x="427.66" y="207.63" width="4.22" height="2.32" fill="#5f9fc7"/>
<rect x="328.39" y="209.61" width="4.22" height="2.32" fill="#5f9fc7"/>
<rect x="332.36" y="209.61" width="4.22" height="2.32" fill="#5f9fc7"/>
<rect x="336.33" y="209.61" width="4.22" height="2.32" fill="#5f9fc7"/>
<rect x="360.16" y="209.61" width="4.22" height="2.32" fill="#5f9fc7"/>
<rect x="364.13" y="209.61" width="4.22" height="2.32" fill="#5f9fc7"/>
<rect x="368.10" y="209.61" width="4.22" height="2.32" fill="#5f9fc7"/>
<rect x="387.95" y="209.61" width="4.22" height="2.32" fill="#5f9fc7"/>
<rect x="403.83" y="209.61" width="4.22" height="2.32" fill="#5f9fc7"/>
<rect x="304.57" y="211.58" width="4.22" height="2.32" fill="#5f9fc7"/>
<rect x="328.39" y="211.58" width="4.22" height="2.32" fill="#5f9fc7"/>
<rect x="332.36" y="211.58" width="4.22" height="2.32" fill="#5f9fc7"/>
<rect x="336.33" y="211.58" width="4.22" height="2.32" fill="#5f9fc7"/>
<rect x="344.27" y="211.58" width="4.22" height="2.32" fill="#5f9fc7"/>
<rect x="352.21" y="211.58" width="4.22" height="2.32" fill="#3860a6"/>
<rect x="360.16" y="211.58" width="4.22" height="2.32" fill="#4880b8"/>
<rect x="368.10" y="211.58" width="4.22" height="2.32" fill="#3860a6"/>
<rect x="376.04" y="211.58" width="4.22" height="2.32" fill="#5f9fc7"/>
<rect x="380.01" y="211.58" width="4.22" height="2.32" fill="#5f9fc7"/>
<rect x="391.92" y="211.58" width="4.22" height="2.32" fill="#4880b8"/>
<rect x="395.89" y="211.58" width="4.22" height="2.32" fill="#5f9fc7"/>
<rect x="399.86" y="211.58" width="4.22" height="2.32" fill="#4880b8"/>
<rect x="407.80" y="211.58" width="4.22" height="2.32" fill="#5f9fc7"/>
<rect x="411.78" y="211.58" width="4.22" height="2.32" fill="#5f9fc7"/>
<rect x="415.75" y="211.58" width="4.22" height="2.32" fill="#4880b8"/>
<rect x="419.72" y="211.58" width="4.22" height="2.32" fill="#5f9fc7"/>
<rect x="292.65" y="213.55" width="4.22" height="2.32" fill="#5f9fc7"/>
<rect x="332.36" y="213.55" width="4.22" height="2.32" fill="#5f9fc7"/>
<rect x="336.33" y="213.55" width="4.22" height="2.32" fill="#5f9fc7"/>
<rect x="360.16" y="213.55" width="4.22" height="2.32" fill="#5f9fc7"/>
<rect x="364.13" y="213.55" width="4.22" height="2.32" fill="#5f9fc7"/>
<rect x="380.01" y="213.55" width="4.22" height="2.32" fill="#5f9fc7"/>
<rect x="387.95" y="213.55" width="4.22" height="2.32" fill="#5f9fc7"/>
<rect x="316.48" y="215.53" width="4.22" height="2.32" fill="#5f9fc7"/>
<rect x="332.36" y="215.53" width="4.22" height="2.32" fill="#5f9fc7"/>
<rect x="344.27" y="215.53" width="4.22" height="2.32" fill="#5f9fc7"/>
<rect x="364.13" y="215.53" width="4.22" height="2.32" fill="#5f9fc7"/>
<rect x="380.01" y="215.53" width="4.22" height="2.32" fill="#5f9fc7"/>
<rect x="387.95" y="215.53" width="4.22" height="2.32" fill="#5f9fc7"/>
<rect x="391.92" y="215.53" width="4.22" height="2.32" fill="#5f9fc7"/>
<rect x="399.86" y="215.53" width="4.22" height="2.32" fill="#5f9fc7"/>
<rect x="403.83" y="215.53" width="4.22" height="2.32" fill="#5f9fc7"/>
<rect x="272.80" y="217.50" width="4.22" height="2.32" fill="#4880b8"/>
<rect x="304.57" y="217.50" width="4.22" height="2.32" fill="#5f9fc7"/>
<rect x="312.51" y="217.50" width="4.22" height="2.32" fill="#4880b8"/>
<rect x="328.39" y="217.50" width="4.22" height="2.32" fill="#5f9fc7"/>
<rect x="336.33" y="217.50" width="4.22" height="2.32" fill="#5f9fc7"/>
<rect x="340.30" y="217.50" width="4.22" height="2.32" fill="#5f9fc7"/>
<rect x="348.24" y="217.50" width="4.22" height="2.32" fill="#5f9fc7"/>
<rect x="352.21" y="217.50" width="4.22" height="2.32" fill="#5f9fc7"/>
<rect x="360.16" y="217.50" width="4.22" height="2.32" fill="#5f9fc7"/>
<rect x="364.13" y="217.50" width="4.22" height="2.32" fill="#5f9fc7"/>
<rect x="376.04" y="217.50" width="4.22" height="2.32" fill="#5f9fc7"/>
<rect x="380.01" y="217.50" width="4.22" height="2.32" fill="#5f9fc7"/>
<rect x="387.95" y="217.50" width="4.22" height="2.32" fill="#5f9fc7"/>
<rect x="411.78" y="217.50" width="4.22" height="2.32" fill="#5f9fc7"/>
<rect x="328.39" y="219.47" width="4.22" height="2.32" fill="#5f9fc7"/>
<rect x="332.36" y="219.47" width="4.22" height="2.32" fill="#5f9fc7"/>
<rect x="340.30" y="219.47" width="4.22" height="2.32" fill="#5f9fc7"/>
<rect x="376.04" y="219.47" width="4.22" height="2.32" fill="#5f9fc7"/>
<rect x="380.01" y="219.47" width="4.22" height="2.32" fill="#5f9fc7"/>
<rect x="387.95" y="219.47" width="4.22" height="2.32" fill="#5f9fc7"/>
<rect x="399.86" y="219.47" width="4.22" height="2.32" fill="#5f9fc7"/>
<rect x="336.33" y="221.45" width="4.22" height="2.32" fill="#5f9fc7"/>
<rect x="348.24" y="221.45" width="4.22" height="2.32" fill="#5f9fc7"/>
<rect x="376.04" y="221.45" width="4.22" height="2.32" fill="#5f9fc7"/>
<rect x="380.01" y="221.45" width="4.22" height="2.32" fill="#5f9fc7"/>
<rect x="292.65" y="223.42" width="4.22" height="2.32" fill="#5f9fc7"/>
<rect x="312.51" y="223.42" width="4.22" height="2.32" fill="#4880b8"/>
<rect x="332.36" y="223.42" width="4.22" height="2.32" fill="#5f9fc7"/>
<rect x="336.33" y="223.42" width="4.22" height="2.32" fill="#5f9fc7"/>
<rect x="360.16" y="223.42" width="4.22" height="2.32" fill="#5f9fc7"/>
<rect x="364.13" y="223.42" width="4.22" height="2.32" fill="#5f9fc7"/>
<rect x="368.10" y="223.42" width="4.22" height="2.32" fill="#5f9fc7"/>
<rect x="387.95" y="223.42" width="4.22" height="2.32" fill="#4880b8"/>
<rect x="391.92" y="223.42" width="4.22" height="2.32" fill="#5f9fc7"/>
<rect x="395.89" y="223.42" width="4.22" height="2.32" fill="#5f9fc7"/>
<rect x="403.83" y="223.42" width="4.22" height="2.32" fill="#4880b8"/>
<rect x="407.80" y="223.42" width="4.22" height="2.32" fill="#5f9fc7"/>
<rect x="328.39" y="225.40" width="4.22" height="2.32" fill="#5f9fc7"/>
<rect x="360.16" y="225.40" width="4.22" height="2.32" fill="#4880b8"/>
<rect x="364.13" y="225.40" width="4.22" height="2.32" fill="#5f9fc7"/>
<rect x="368.10" y="225.40" width="4.22" height="2.32" fill="#5f9fc7"/>
<rect x="380.01" y="225.40" width="4.22" height="2.32" fill="#5f9fc7"/>
<rect x="387.95" y="225.40" width="4.22" height="2.32" fill="#5f9fc7"/>
<rect x="391.92" y="225.40" width="4.22" height="2.32" fill="#5f9fc7"/>
<rect x="399.86" y="225.40" width="4.22" height="2.32" fill="#5f9fc7"/>
<rect x="407.80" y="225.40" width="4.22" height="2.32" fill="#5f9fc7"/>
<rect x="415.75" y="225.40" width="4.22" height="2.32" fill="#5f9fc7"/>
<rect x="431.63" y="225.40" width="4.22" height="2.32" fill="#5f9fc7"/>
<rect x="332.36" y="227.37" width="4.22" height="2.32" fill="#5f9fc7"/>
<rect x="336.33" y="227.37" width="4.22" height="2.32" fill="#5f9fc7"/>
<rect x="344.27" y="227.37" width="4.22" height="2.32" fill="#5f9fc7"/>
<rect x="368.10" y="227.37" width="4.22" height="2.32" fill="#5f9fc7"/>
<rect x="387.95" y="227.37" width="4.22" height="2.32" fill="#5f9fc7"/>
<rect x="391.92" y="227.37" width="4.22" height="2.32" fill="#5f9fc7"/>
<rect x="399.86" y="227.37" width="4.22" height="2.32" fill="#5f9fc7"/>
<rect x="415.75" y="227.37" width="4.22" height="2.32" fill="#5f9fc7"/>
<rect x="332.36" y="229.34" width="4.22" height="2.32" fill="#5f9fc7"/>
<rect x="360.16" y="229.34" width="4.22" height="2.32" fill="#5f9fc7"/>
<rect x="368.10" y="229.34" width="4.22" height="2.32" fill="#5f9fc7"/>
<rect x="387.95" y="229.34" width="4.22" height="2.32" fill="#5f9fc7"/>
<rect x="399.86" y="229.34" width="4.22" height="2.32" fill="#5f9fc7"/>
<rect x="411.78" y="229.34" width="4.22" height="2.32" fill="#5f9fc7"/>
<rect x="284.71" y="231.32" width="4.22" height="2.32" fill="#5f9fc7"/>
<rect x="292.65" y="231.32" width="4.22" height="2.32" fill="#4880b8"/>
<rect x="336.33" y="231.32" width="4.22" height="2.32" fill="#5f9fc7"/>
<rect x="340.30" y="231.32" width="4.22" height="2.32" fill="#5f9fc7"/>
<rect x="348.24" y="231.32" width="4.22" height="2.32" fill="#5f9fc7"/>
<rect x="360.16" y="231.32" width="4.22" height="2.32" fill="#5f9fc7"/>
<rect x="387.95" y="231.32" width="4.22" height="2.32" fill="#5f9fc7"/>
<rect x="411.78" y="231.32" width="4.22" height="2.32" fill="#5f9fc7"/>
<rect x="415.75" y="231.32" width="4.22" height="2.32" fill="#5f9fc7"/>
<rect x="272.80" y="233.29" width="4.22" height="2.32" fill="#5f9fc7"/>
<rect x="288.68" y="233.29" width="4.22" height="2.32" fill="#5f9fc7"/>
<rect x="304.57" y="233.29" width="4.22" height="2.32" fill="#4880b8"/>
<rect x="316.48" y="233.29" width="4.22" height="2.32" fill="#5f9fc7"/>
<rect x="328.39" y="233.29" width="4.22" height="2.32" fill="#5f9fc7"/>
<rect x="332.36" y="233.29" width="4.22" height="2.32" fill="#5f9fc7"/>
<rect x="336.33" y="233.29" width="4.22" height="2.32" fill="#5f9fc7"/>
<rect x="340.30" y="233.29" width="4.22" height="2.32" fill="#5f9fc7"/>
<rect x="364.13" y="233.29" width="4.22" height="2.32" fill="#5f9fc7"/>
<rect x="380.01" y="233.29" width="4.22" height="2.32" fill="#5f9fc7"/>
<rect x="391.92" y="233.29" width="4.22" height="2.32" fill="#5f9fc7"/>
<rect x="399.86" y="233.29" width="4.22" height="2.32" fill="#5f9fc7"/>
<rect x="407.80" y="233.29" width="4.22" height="2.32" fill="#5f9fc7"/>
<rect x="411.78" y="233.29" width="4.22" height="2.32" fill="#5f9fc7"/>
<rect x="419.72" y="233.29" width="4.22" height="2.32" fill="#5f9fc7"/>
<rect x="284.71" y="235.26" width="4.22" height="2.32" fill="#4880b8"/>
<rect x="296.62" y="235.26" width="4.22" height="2.32" fill="#5f9fc7"/>
<rect x="328.39" y="235.26" width="4.22" height="2.32" fill="#5f9fc7"/>
<rect x="340.30" y="235.26" width="4.22" height="2.32" fill="#5f9fc7"/>
<rect x="352.21" y="235.26" width="4.22" height="2.32" fill="#5f9fc7"/>
<rect x="360.16" y="235.26" width="4.22" height="2.32" fill="#5f9fc7"/>
<rect x="368.10" y="235.26" width="4.22" height="2.32" fill="#5f9fc7"/>
<rect x="380.01" y="235.26" width="4.22" height="2.32" fill="#4880b8"/>
<rect x="387.95" y="235.26" width="4.22" height="2.32" fill="#5f9fc7"/>
<rect x="395.89" y="235.26" width="4.22" height="2.32" fill="#5f9fc7"/>
<rect x="399.86" y="235.26" width="4.22" height="2.32" fill="#3860a6"/>
<rect x="320.45" y="237.24" width="4.22" height="2.32" fill="#5f9fc7"/>
<rect x="332.36" y="237.24" width="4.22" height="2.32" fill="#5f9fc7"/>
<rect x="360.16" y="237.24" width="4.22" height="2.32" fill="#5f9fc7"/>
<rect x="368.10" y="237.24" width="4.22" height="2.32" fill="#5f9fc7"/>
<rect x="399.86" y="237.24" width="4.22" height="2.32" fill="#5f9fc7"/>
<rect x="407.80" y="237.24" width="4.22" height="2.32" fill="#5f9fc7"/>
<rect x="423.69" y="237.24" width="4.22" height="2.32" fill="#5f9fc7"/>
<rect x="288.68" y="239.21" width="4.22" height="2.32" fill="#5f9fc7"/>
<rect x="300.60" y="239.21" width="4.22" height="2.32" fill="#5f9fc7"/>
<rect x="304.57" y="239.21" width="4.22" height="2.32" fill="#4880b8"/>
<rect x="316.48" y="239.21" width="4.22" height="2.32" fill="#5f9fc7"/>
<rect x="340.30" y="239.21" width="4.22" height="2.32" fill="#5f9fc7"/>
<rect x="352.21" y="239.21" width="4.22" height="2.32" fill="#5f9fc7"/>
<rect x="360.16" y="239.21" width="4.22" height="2.32" fill="#5f9fc7"/>
<rect x="372.07" y="239.21" width="4.22" height="2.32" fill="#5f9fc7"/>
<rect x="391.92" y="239.21" width="4.22" height="2.32" fill="#5f9fc7"/>
<rect x="395.89" y="239.21" width="4.22" height="2.32" fill="#5f9fc7"/>
<rect x="415.75" y="239.21" width="4.22" height="2.32" fill="#5f9fc7"/>
<rect x="276.77" y="241.19" width="4.22" height="2.32" fill="#5f9fc7"/>
<rect x="320.45" y="241.19" width="4.22" height="2.32" fill="#4880b8"/>
<rect x="336.33" y="241.19" width="4.22" height="2.32" fill="#5f9fc7"/>
<rect x="352.21" y="241.19" width="4.22" height="2.32" fill="#5f9fc7"/>
<rect x="360.16" y="241.19" width="4.22" height="2.32" fill="#5f9fc7"/>
<rect x="376.04" y="241.19" width="4.22" height="2.32" fill="#5f9fc7"/>
<rect x="399.86" y="241.19" width="4.22" height="2.32" fill="#5f9fc7"/>
<rect x="292.65" y="243.16" width="4.22" height="2.32" fill="#5f9fc7"/>
<rect x="296.62" y="243.16" width="4.22" height="2.32" fill="#5f9fc7"/>
<rect x="300.60" y="243.16" width="4.22" height="2.32" fill="#5f9fc7"/>
<rect x="304.57" y="243.16" width="4.22" height="2.32" fill="#5f9fc7"/>
<rect x="308.54" y="243.16" width="4.22" height="2.32" fill="#5f9fc7"/>
<rect x="312.51" y="243.16" width="4.22" height="2.32" fill="#5f9fc7"/>
<rect x="316.48" y="243.16" width="4.22" height="2.32" fill="#5f9fc7"/>
<rect x="360.16" y="243.16" width="4.22" height="2.32" fill="#5f9fc7"/>
<rect x="368.10" y="243.16" width="4.22" height="2.32" fill="#4880b8"/>
<rect x="391.92" y="243.16" width="4.22" height="2.32" fill="#5f9fc7"/>
<rect x="395.89" y="243.16" width="4.22" height="2.32" fill="#5f9fc7"/>
<rect x="399.86" y="243.16" width="4.22" height="2.32" fill="#5f9fc7"/>
<rect x="403.83" y="243.16" width="4.22" height="2.32" fill="#5f9fc7"/>
<rect x="312.51" y="245.13" width="4.22" height="2.32" fill="#5f9fc7"/>
<rect x="324.42" y="245.13" width="4.22" height="2.32" fill="#5f9fc7"/>
<rect x="328.39" y="245.13" width="4.22" height="2.32" fill="#5f9fc7"/>
<rect x="332.36" y="245.13" width="4.22" height="2.32" fill="#5f9fc7"/>
<rect x="336.33" y="245.13" width="4.22" height="2.32" fill="#5f9fc7"/>
<rect x="340.30" y="245.13" width="4.22" height="2.32" fill="#5f9fc7"/>
<rect x="348.24" y="245.13" width="4.22" height="2.32" fill="#5f9fc7"/>
<rect x="352.21" y="245.13" width="4.22" height="2.32" fill="#5f9fc7"/>
<rect x="364.13" y="245.13" width="4.22" height="2.32" fill="#5f9fc7"/>
<rect x="368.10" y="245.13" width="4.22" height="2.32" fill="#5f9fc7"/>
<rect x="376.04" y="245.13" width="4.22" height="2.32" fill="#5f9fc7"/>
<rect x="387.95" y="245.13" width="4.22" height="2.32" fill="#4880b8"/>
<rect x="395.89" y="245.13" width="4.22" height="2.32" fill="#5f9fc7"/>
<rect x="403.83" y="245.13" width="4.22" height="2.32" fill="#4880b8"/>
<rect x="292.65" y="247.11" width="4.22" height="2.32" fill="#5f9fc7"/>
<rect x="304.57" y="247.11" width="4.22" height="2.32" fill="#5f9fc7"/>
<rect x="312.51" y="247.11" width="4.22" height="2.32" fill="#5f9fc7"/>
<rect x="316.48" y="247.11" width="4.22" height="2.32" fill="#5f9fc7"/>
<rect x="332.36" y="247.11" width="4.22" height="2.32" fill="#5f9fc7"/>
<rect x="336.33" y="247.11" width="4.22" height="2.32" fill="#5f9fc7"/>
<rect x="360.16" y="247.11" width="4.22" height="2.32" fill="#5f9fc7"/>
<rect x="364.13" y="247.11" width="4.22" height="2.32" fill="#5f9fc7"/>
<rect x="372.07" y="247.11" width="4.22" height="2.32" fill="#5f9fc7"/>
<rect x="376.04" y="247.11" width="4.22" height="2.32" fill="#5f9fc7"/>
<rect x="387.95" y="247.11" width="4.22" height="2.32" fill="#4880b8"/>
<rect x="288.68" y="249.08" width="4.22" height="2.32" fill="#5f9fc7"/>
<rect x="332.36" y="249.08" width="4.22" height="2.32" fill="#5f9fc7"/>
<rect x="336.33" y="249.08" width="4.22" height="2.32" fill="#5f9fc7"/>
<rect x="352.21" y="249.08" width="4.22" height="2.32" fill="#5f9fc7"/>
<rect x="360.16" y="249.08" width="4.22" height="2.32" fill="#5f9fc7"/>
<rect x="368.10" y="249.08" width="4.22" height="2.32" fill="#3860a6"/>
<rect x="380.01" y="249.08" width="4.22" height="2.32" fill="#5f9fc7"/>
<rect x="383.98" y="249.08" width="4.22" height="2.32" fill="#5f9fc7"/>
<rect x="395.89" y="249.08" width="4.22" height="2.32" fill="#5f9fc7"/>
<rect x="403.83" y="249.08" width="4.22" height="2.32" fill="#5f9fc7"/>
<rect x="288.68" y="251.05" width="4.22" height="2.32" fill="#5f9fc7"/>
<rect x="304.57" y="251.05" width="4.22" height="2.32" fill="#4880b8"/>
<rect x="352.21" y="251.05" width="4.22" height="2.32" fill="#5f9fc7"/>
<rect x="360.16" y="251.05" width="4.22" height="2.32" fill="#5f9fc7"/>
<rect x="399.86" y="251.05" width="4.22" height="2.32" fill="#5f9fc7"/>
<rect x="403.83" y="251.05" width="4.22" height="2.32" fill="#5f9fc7"/>
<rect x="296.62" y="253.03" width="4.22" height="2.32" fill="#5f9fc7"/>
<rect x="304.57" y="253.03" width="4.22" height="2.32" fill="#5f9fc7"/>
<rect x="308.54" y="253.03" width="4.22" height="2.32" fill="#5f9fc7"/>
<rect x="312.51" y="253.03" width="4.22" height="2.32" fill="#5f9fc7"/>
<rect x="316.48" y="253.03" width="4.22" height="2.32" fill="#5f9fc7"/>
<rect x="328.39" y="253.03" width="4.22" height="2.32" fill="#5f9fc7"/>
<rect x="332.36" y="253.03" width="4.22" height="2.32" fill="#5f9fc7"/>
<rect x="352.21" y="253.03" width="4.22" height="2.32" fill="#5f9fc7"/>
<rect x="360.16" y="253.03" width="4.22" height="2.32" fill="#5f9fc7"/>
<rect x="308.54" y="255.00" width="4.22" height="2.32" fill="#5f9fc7"/>
<rect x="312.51" y="255.00" width="4.22" height="2.32" fill="#5f9fc7"/>
<rect x="336.33" y="255.00" width="4.22" height="2.32" fill="#5f9fc7"/>
<rect x="387.95" y="255.00" width="4.22" height="2.32" fill="#5f9fc7"/>
<rect x="280.74" y="256.98" width="4.22" height="2.32" fill="#5f9fc7"/>
<rect x="288.68" y="256.98" width="4.22" height="2.32" fill="#5f9fc7"/>
<rect x="308.54" y="256.98" width="4.22" height="2.32" fill="#5f9fc7"/>
<rect x="332.36" y="256.98" width="4.22" height="2.32" fill="#5f9fc7"/>
<rect x="336.33" y="256.98" width="4.22" height="2.32" fill="#5f9fc7"/>
<rect x="340.30" y="256.98" width="4.22" height="2.32" fill="#5f9fc7"/>
<rect x="352.21" y="256.98" width="4.22" height="2.32" fill="#5f9fc7"/>
<rect x="368.10" y="256.98" width="4.22" height="2.32" fill="#5f9fc7"/>
<rect x="415.75" y="256.98" width="4.22" height="2.32" fill="#5f9fc7"/>
<rect x="272.80" y="258.95" width="4.22" height="2.32" fill="#5f9fc7"/>
<rect x="284.71" y="258.95" width="4.22" height="2.32" fill="#4880b8"/>
<rect x="300.60" y="258.95" width="4.22" height="2.32" fill="#5f9fc7"/>
<rect x="304.57" y="258.95" width="4.22" height="2.32" fill="#5f9fc7"/>
<rect x="312.51" y="258.95" width="4.22" height="2.32" fill="#4880b8"/>
<rect x="328.39" y="258.95" width="4.22" height="2.32" fill="#5f9fc7"/>
<rect x="336.33" y="258.95" width="4.22" height="2.32" fill="#5f9fc7"/>
<rect x="344.27" y="258.95" width="4.22" height="2.32" fill="#5f9fc7"/>
<rect x="352.21" y="258.95" width="4.22" height="2.32" fill="#5f9fc7"/>
<rect x="368.10" y="258.95" width="4.22" height="2.32" fill="#5f9fc7"/>
<rect x="372.07" y="258.95" width="4.22" height="2.32" fill="#5f9fc7"/>
<rect x="380.01" y="258.95" width="4.22" height="2.32" fill="#5f9fc7"/>
<rect x="383.98" y="258.95" width="4.22" height="2.32" fill="#5f9fc7"/>
<rect x="272.80" y="260.92" width="4.22" height="2.32" fill="#5f9fc7"/>
<rect x="344.27" y="260.92" width="4.22" height="2.32" fill="#5f9fc7"/>
<rect x="352.21" y="260.92" width="4.22" height="2.32" fill="#5f9fc7"/>
<rect x="288.68" y="262.90" width="4.22" height="2.32" fill="#5f9fc7"/>
<rect x="304.57" y="262.90" width="4.22" height="2.32" fill="#5f9fc7"/>
<rect x="336.33" y="262.90" width="4.22" height="2.32" fill="#4880b8"/>
<rect x="352.21" y="262.90" width="4.22" height="2.32" fill="#5f9fc7"/>
<rect x="368.10" y="262.90" width="4.22" height="2.32" fill="#5f9fc7"/>
<rect x="380.01" y="262.90" width="4.22" height="2.32" fill="#5f9fc7"/>
<rect x="387.95" y="262.90" width="4.22" height="2.32" fill="#5f9fc7"/>
<rect x="304.57" y="264.87" width="4.22" height="2.32" fill="#5f9fc7"/>
<rect x="312.51" y="264.87" width="4.22" height="2.32" fill="#4880b8"/>
<rect x="324.42" y="264.87" width="4.22" height="2.32" fill="#5f9fc7"/>
<rect x="328.39" y="264.87" width="4.22" height="2.32" fill="#5f9fc7"/>
<rect x="336.33" y="264.87" width="4.22" height="2.32" fill="#5f9fc7"/>
<rect x="352.21" y="264.87" width="4.22" height="2.32" fill="#5f9fc7"/>
<rect x="368.10" y="264.87" width="4.22" height="2.32" fill="#5f9fc7"/>
<rect x="288.68" y="266.84" width="4.22" height="2.32" fill="#5f9fc7"/>
<rect x="312.51" y="266.84" width="4.22" height="2.32" fill="#5f9fc7"/>
<rect x="316.48" y="266.84" width="4.22" height="2.32" fill="#5f9fc7"/>
<rect x="324.42" y="266.84" width="4.22" height="2.32" fill="#5f9fc7"/>
<rect x="328.39" y="266.84" width="4.22" height="2.32" fill="#5f9fc7"/>
<rect x="332.36" y="266.84" width="4.22" height="2.32" fill="#5f9fc7"/>
<rect x="336.33" y="266.84" width="4.22" height="2.32" fill="#3860a6"/>
<rect x="360.16" y="266.84" width="4.22" height="2.32" fill="#5f9fc7"/>
<rect x="391.92" y="266.84" width="4.22" height="2.32" fill="#4880b8"/>
<rect x="284.71" y="268.82" width="4.22" height="2.32" fill="#4880b8"/>
<rect x="292.65" y="268.82" width="4.22" height="2.32" fill="#5f9fc7"/>
<rect x="332.36" y="268.82" width="4.22" height="2.32" fill="#5f9fc7"/>
<rect x="340.30" y="268.82" width="4.22" height="2.32" fill="#5f9fc7"/>
<rect x="344.27" y="268.82" width="4.22" height="2.32" fill="#5f9fc7"/>
<rect x="352.21" y="268.82" width="4.22" height="2.32" fill="#5f9fc7"/>
<rect x="360.16" y="268.82" width="4.22" height="2.32" fill="#5f9fc7"/>
<rect x="395.89" y="268.82" width="4.22" height="2.32" fill="#5f9fc7"/>
<rect x="272.80" y="270.79" width="4.22" height="2.32" fill="#5f9fc7"/>
<rect x="284.71" y="272.77" width="4.22" height="2.32" fill="#5f9fc7"/>
<rect x="288.68" y="272.77" width="4.22" height="2.32" fill="#5f9fc7"/>
<rect x="300.60" y="272.77" width="4.22" height="2.32" fill="#5f9fc7"/>
<rect x="304.57" y="272.77" width="4.22" height="2.32" fill="#5f9fc7"/>
<rect x="308.54" y="272.77" width="4.22" height="2.32" fill="#5f9fc7"/>
<rect x="332.36" y="272.77" width="4.22" height="2.32" fill="#5f9fc7"/>
<rect x="336.33" y="272.77" width="4.22" height="2.32" fill="#5f9fc7"/>
<rect x="352.21" y="272.77" width="4.22" height="2.32" fill="#4880b8"/>
<rect x="364.13" y="272.77" width="4.22" height="2.32" fill="#5f9fc7"/>
<rect x="280.74" y="274.74" width="4.22" height="2.32" fill="#5f9fc7"/>
<rect x="332.36" y="274.74" width="4.22" height="2.32" fill="#5f9fc7"/>
<rect x="340.30" y="274.74" width="4.22" height="2.32" fill="#5f9fc7"/>
<rect x="296.62" y="276.71" width="4.22" height="2.32" fill="#5f9fc7"/>
<rect x="304.57" y="276.71" width="4.22" height="2.32" fill="#4880b8"/>
<rect x="308.54" y="276.71" width="4.22" height="2.32" fill="#5f9fc7"/>
<rect x="312.51" y="276.71" width="4.22" height="2.32" fill="#4880b8"/>
<rect x="340.30" y="276.71" width="4.22" height="2.32" fill="#5f9fc7"/>
<rect x="356.19" y="276.71" width="4.22" height="2.32" fill="#5f9fc7"/>
<rect x="376.04" y="276.71" width="4.22" height="2.32" fill="#5f9fc7"/>
<rect x="395.89" y="276.71" width="4.22" height="2.32" fill="#5f9fc7"/>
<rect x="284.71" y="278.69" width="4.22" height="2.32" fill="#5f9fc7"/>
<rect x="308.54" y="278.69" width="4.22" height="2.32" fill="#5f9fc7"/>
<rect x="336.33" y="278.69" width="4.22" height="2.32" fill="#5f9fc7"/>
<rect x="360.16" y="278.69" width="4.22" height="2.32" fill="#5f9fc7"/>
<rect x="372.07" y="278.69" width="4.22" height="2.32" fill="#5f9fc7"/>
<rect x="376.04" y="278.69" width="4.22" height="2.32" fill="#5f9fc7"/>
<line x1="269.20" y1="184.93" x2="272.20" y2="184.93" stroke="#000" stroke-width="1.0"/>
<text transform="translate(266.60,187.13) scale(0.95,1)" font-size="6.4" text-anchor="end" fill="#000">TRAJ56</text>
<line x1="269.20" y1="190.86" x2="272.20" y2="190.86" stroke="#000" stroke-width="1.0"/>
<text transform="translate(266.60,193.06) scale(0.95,1)" font-size="6.4" text-anchor="end" fill="#000">TRAJ52</text>
<line x1="269.20" y1="196.78" x2="272.20" y2="196.78" stroke="#000" stroke-width="1.0"/>
<text transform="translate(266.60,198.98) scale(0.95,1)" font-size="6.4" text-anchor="end" fill="#000">TRAJ48</text>
<line x1="269.20" y1="202.70" x2="272.20" y2="202.70" stroke="#000" stroke-width="1.0"/>
<text transform="translate(266.60,204.90) scale(0.95,1)" font-size="6.4" text-anchor="end" fill="#000">TRAJ45</text>
<line x1="269.20" y1="208.62" x2="272.20" y2="208.62" stroke="#000" stroke-width="1.0"/>
<text transform="translate(266.60,210.82) scale(0.95,1)" font-size="6.4" text-anchor="end" fill="#000">TRAJ42</text>
<line x1="269.20" y1="214.54" x2="272.20" y2="214.54" stroke="#000" stroke-width="1.0"/>
<text transform="translate(266.60,216.74) scale(0.95,1)" font-size="6.4" text-anchor="end" fill="#000">TRAJ39</text>
<line x1="269.20" y1="220.46" x2="272.20" y2="220.46" stroke="#000" stroke-width="1.0"/>
<text transform="translate(266.60,222.66) scale(0.95,1)" font-size="6.4" text-anchor="end" fill="#000">TRAJ36</text>
<line x1="269.20" y1="226.38" x2="272.20" y2="226.38" stroke="#000" stroke-width="1.0"/>
<text transform="translate(266.60,228.58) scale(0.95,1)" font-size="6.4" text-anchor="end" fill="#000">TRAJ33</text>
<line x1="269.20" y1="232.30" x2="272.20" y2="232.30" stroke="#000" stroke-width="1.0"/>
<text transform="translate(266.60,234.50) scale(0.95,1)" font-size="6.4" text-anchor="end" fill="#000">TRAJ30</text>
<line x1="269.20" y1="238.22" x2="272.20" y2="238.22" stroke="#000" stroke-width="1.0"/>
<text transform="translate(266.60,240.42) scale(0.95,1)" font-size="6.4" text-anchor="end" fill="#000">TRAJ27</text>
<line x1="269.20" y1="244.15" x2="272.20" y2="244.15" stroke="#000" stroke-width="1.0"/>
<text transform="translate(266.60,246.35) scale(0.95,1)" font-size="6.4" text-anchor="end" fill="#000">TRAJ23</text>
<line x1="269.20" y1="250.07" x2="272.20" y2="250.07" stroke="#000" stroke-width="1.0"/>
<text transform="translate(266.60,252.27) scale(0.95,1)" font-size="6.4" text-anchor="end" fill="#000">TRAJ20</text>
<line x1="269.20" y1="255.99" x2="272.20" y2="255.99" stroke="#000" stroke-width="1.0"/>
<text transform="translate(266.60,258.19) scale(0.95,1)" font-size="6.4" text-anchor="end" fill="#000">TRAJ16</text>
<line x1="269.20" y1="261.91" x2="272.20" y2="261.91" stroke="#000" stroke-width="1.0"/>
<text transform="translate(266.60,264.11) scale(0.95,1)" font-size="6.4" text-anchor="end" fill="#000">TRAJ12</text>
<line x1="269.20" y1="267.83" x2="272.20" y2="267.83" stroke="#000" stroke-width="1.0"/>
<text transform="translate(266.60,270.03) scale(0.95,1)" font-size="6.4" text-anchor="end" fill="#000">TRAJ9</text>
<line x1="269.20" y1="273.75" x2="272.20" y2="273.75" stroke="#000" stroke-width="1.0"/>
<text transform="translate(266.60,275.95) scale(0.95,1)" font-size="6.4" text-anchor="end" fill="#000">TRAJ6</text>
<line x1="269.20" y1="279.67" x2="272.20" y2="279.67" stroke="#000" stroke-width="1.0"/>
<text transform="translate(266.60,281.87) scale(0.95,1)" font-size="6.4" text-anchor="end" fill="#000">TRAJ3</text>
<line x1="274.79" y1="281.26" x2="274.79" y2="284.26" stroke="#000" stroke-width="1.0"/>
<text transform="translate(276.39,291.16) rotate(-45) scale(0.95,1)" font-size="6.2" text-anchor="end" fill="#000">TRAV1-1</text>
<line x1="282.73" y1="281.26" x2="282.73" y2="284.26" stroke="#000" stroke-width="1.0"/>
<text transform="translate(284.33,291.16) rotate(-45) scale(0.95,1)" font-size="6.2" text-anchor="end" fill="#000">TRAV2</text>
<line x1="290.67" y1="281.26" x2="290.67" y2="284.26" stroke="#000" stroke-width="1.0"/>
<text transform="translate(292.27,291.16) rotate(-45) scale(0.95,1)" font-size="6.2" text-anchor="end" fill="#000">TRAV4</text>
<line x1="298.61" y1="281.26" x2="298.61" y2="284.26" stroke="#000" stroke-width="1.0"/>
<text transform="translate(300.21,291.16) rotate(-45) scale(0.95,1)" font-size="6.2" text-anchor="end" fill="#000">TRAV8-1</text>
<line x1="306.55" y1="281.26" x2="306.55" y2="284.26" stroke="#000" stroke-width="1.0"/>
<text transform="translate(308.15,291.16) rotate(-45) scale(0.95,1)" font-size="6.2" text-anchor="end" fill="#000">TRAV8-3</text>
<line x1="314.49" y1="281.26" x2="314.49" y2="284.26" stroke="#000" stroke-width="1.0"/>
<text transform="translate(316.09,291.16) rotate(-45) scale(0.95,1)" font-size="6.2" text-anchor="end" fill="#000">TRAV8-6</text>
<line x1="322.43" y1="281.26" x2="322.43" y2="284.26" stroke="#000" stroke-width="1.0"/>
<text transform="translate(324.03,291.16) rotate(-45) scale(0.95,1)" font-size="6.2" text-anchor="end" fill="#000">TRAV10</text>
<line x1="330.38" y1="281.26" x2="330.38" y2="284.26" stroke="#000" stroke-width="1.0"/>
<text transform="translate(331.98,291.16) rotate(-45) scale(0.95,1)" font-size="6.2" text-anchor="end" fill="#000">TRAV12-2</text>
<line x1="338.32" y1="281.26" x2="338.32" y2="284.26" stroke="#000" stroke-width="1.0"/>
<text transform="translate(339.92,291.16) rotate(-45) scale(0.95,1)" font-size="6.2" text-anchor="end" fill="#000">TRAV13-1</text>
<line x1="346.26" y1="281.26" x2="346.26" y2="284.26" stroke="#000" stroke-width="1.0"/>
<text transform="translate(347.86,291.16) rotate(-45) scale(0.95,1)" font-size="6.2" text-anchor="end" fill="#000">TRAV14DV4</text>
<line x1="354.20" y1="281.26" x2="354.20" y2="284.26" stroke="#000" stroke-width="1.0"/>
<text transform="translate(355.80,291.16) rotate(-45) scale(0.95,1)" font-size="6.2" text-anchor="end" fill="#000">TRAV17</text>
<line x1="362.14" y1="281.26" x2="362.14" y2="284.26" stroke="#000" stroke-width="1.0"/>
<text transform="translate(363.74,291.16) rotate(-45) scale(0.95,1)" font-size="6.2" text-anchor="end" fill="#000">TRAV19</text>
<line x1="370.08" y1="281.26" x2="370.08" y2="284.26" stroke="#000" stroke-width="1.0"/>
<text transform="translate(371.68,291.16) rotate(-45) scale(0.95,1)" font-size="6.2" text-anchor="end" fill="#000">TRAV21</text>
<line x1="378.02" y1="281.26" x2="378.02" y2="284.26" stroke="#000" stroke-width="1.0"/>
<text transform="translate(379.62,291.16) rotate(-45) scale(0.95,1)" font-size="6.2" text-anchor="end" fill="#000">TRAV23DV6</text>
<line x1="385.97" y1="281.26" x2="385.97" y2="284.26" stroke="#000" stroke-width="1.0"/>
<text transform="translate(387.57,291.16) rotate(-45) scale(0.95,1)" font-size="6.2" text-anchor="end" fill="#000">TRAV25</text>
<line x1="393.91" y1="281.26" x2="393.91" y2="284.26" stroke="#000" stroke-width="1.0"/>
<text transform="translate(395.51,291.16) rotate(-45) scale(0.95,1)" font-size="6.2" text-anchor="end" fill="#000">TRAV26-2</text>
<line x1="401.85" y1="281.26" x2="401.85" y2="284.26" stroke="#000" stroke-width="1.0"/>
<text transform="translate(403.45,291.16) rotate(-45) scale(0.95,1)" font-size="6.2" text-anchor="end" fill="#000">TRAV29DV5</text>
<line x1="409.79" y1="281.26" x2="409.79" y2="284.26" stroke="#000" stroke-width="1.0"/>
<text transform="translate(411.39,291.16) rotate(-45) scale(0.95,1)" font-size="6.2" text-anchor="end" fill="#000">TRAV35</text>
<line x1="417.73" y1="281.26" x2="417.73" y2="284.26" stroke="#000" stroke-width="1.0"/>
<text transform="translate(419.33,291.16) rotate(-45) scale(0.95,1)" font-size="6.2" text-anchor="end" fill="#000">TRAV38-1</text>
<line x1="425.67" y1="281.26" x2="425.67" y2="284.26" stroke="#000" stroke-width="1.0"/>
<text transform="translate(427.27,291.16) rotate(-45) scale(0.95,1)" font-size="6.2" text-anchor="end" fill="#000">TRAV39</text>
<line x1="433.61" y1="281.26" x2="433.61" y2="284.26" stroke="#000" stroke-width="1.0"/>
<text transform="translate(435.21,291.16) rotate(-45) scale(0.95,1)" font-size="6.2" text-anchor="end" fill="#000">TRAV41</text>
<defs><linearGradient id="gSR1" x1="0" y1="1" x2="0" y2="0"><stop offset="0.0" stop-color="#c3e3b3"/><stop offset="0.06" stop-color="#8ac6bf"/><stop offset="0.17" stop-color="#69a9c8"/><stop offset="0.33" stop-color="#5898c6"/><stop offset="0.5" stop-color="#4a85bb"/><stop offset="0.75" stop-color="#3e6aac"/><stop offset="1.0" stop-color="#30509c"/></linearGradient></defs>
<rect x="441.70" y="182.80" width="9.00" height="96.20" fill="url(#gSR1)"/>
<text transform="translate(453.50,278.90) scale(0.97,1)" font-size="6.5" text-anchor="start" fill="#000">0</text>
<text transform="translate(453.50,263.43) scale(0.97,1)" font-size="6.5" text-anchor="start" fill="#000">1</text>
<text transform="translate(453.50,247.97) scale(0.97,1)" font-size="6.5" text-anchor="start" fill="#000">2</text>
<text transform="translate(453.50,232.50) scale(0.97,1)" font-size="6.5" text-anchor="start" fill="#000">3</text>
<text transform="translate(453.50,217.03) scale(0.97,1)" font-size="6.5" text-anchor="start" fill="#000">4</text>
<text transform="translate(453.50,201.57) scale(0.97,1)" font-size="6.5" text-anchor="start" fill="#000">5</text>
<text transform="translate(453.50,186.10) scale(0.97,1)" font-size="6.5" text-anchor="start" fill="#000">6</text>
<text transform="translate(6.80,344.20)" font-size="11.2" text-anchor="start" font-weight="bold" fill="#000">D</text>
<line x1="45.40" y1="343.60" x2="45.40" y2="510.60" stroke="#1a1a1a" stroke-width="1.0"/>
<line x1="45.40" y1="510.60" x2="295.40" y2="510.60" stroke="#1a1a1a" stroke-width="1.0"/>
<line x1="42.30" y1="503.10" x2="45.40" y2="503.10" stroke="#1a1a1a" stroke-width="1.0"/>
<text transform="translate(39.40,505.30) scale(0.97,1)" font-size="6.6" text-anchor="end" fill="#000">0.00</text>
<line x1="42.30" y1="462.60" x2="45.40" y2="462.60" stroke="#1a1a1a" stroke-width="1.0"/>
<text transform="translate(39.40,464.80) scale(0.97,1)" font-size="6.6" text-anchor="end" fill="#000">0.03</text>
<line x1="42.30" y1="422.10" x2="45.40" y2="422.10" stroke="#1a1a1a" stroke-width="1.0"/>
<text transform="translate(39.40,424.30) scale(0.97,1)" font-size="6.6" text-anchor="end" fill="#000">0.06</text>
<line x1="42.30" y1="381.60" x2="45.40" y2="381.60" stroke="#1a1a1a" stroke-width="1.0"/>
<text transform="translate(39.40,383.80) scale(0.97,1)" font-size="6.6" text-anchor="end" fill="#000">0.09</text>
<text transform="translate(21.30,427.00) rotate(-90) scale(0.84,1)" font-size="6.6" text-anchor="middle" fill="#000">Frequency</text>
<rect x="48.40" y="498.90" width="2.98" height="4.20" fill="#29477a"/>
<line x1="48.40" y1="510.60" x2="48.40" y2="513.70" stroke="#1a1a1a" stroke-width="1.0"/>
<text transform="translate(50.85,516.50) rotate(-90) scale(0.88,1)" font-size="7.0" text-anchor="end" fill="#000">TRBV10-1</text>
<rect x="51.38" y="482.50" width="2.98" height="20.60" fill="#a50026"/>
<rect x="54.35" y="501.20" width="2.98" height="1.90" fill="#29477a"/>
<line x1="54.35" y1="510.60" x2="54.35" y2="513.70" stroke="#1a1a1a" stroke-width="1.0"/>
<text transform="translate(56.80,516.50) rotate(-90) scale(0.88,1)" font-size="7.0" text-anchor="end" fill="#000">TRBV10-2</text>
<rect x="57.33" y="351.00" width="2.98" height="152.10" fill="#a50026"/>
<rect x="60.31" y="417.90" width="2.98" height="85.20" fill="#29477a"/>
<line x1="60.31" y1="510.60" x2="60.31" y2="513.70" stroke="#1a1a1a" stroke-width="1.0"/>
<text transform="translate(62.76,516.50) rotate(-90) scale(0.88,1)" font-size="7.0" text-anchor="end" fill="#000">TRBV10-3</text>
<rect x="63.29" y="488.90" width="2.98" height="14.20" fill="#a50026"/>
<line x1="66.26" y1="510.60" x2="66.26" y2="513.70" stroke="#1a1a1a" stroke-width="1.0"/>
<text transform="translate(68.71,516.50) rotate(-90) scale(0.88,1)" font-size="7.0" text-anchor="end" fill="#000">TRBV11-1</text>
<rect x="69.24" y="490.20" width="2.98" height="12.90" fill="#a50026"/>
<rect x="72.22" y="486.50" width="2.98" height="16.60" fill="#29477a"/>
<line x1="72.22" y1="510.60" x2="72.22" y2="513.70" stroke="#1a1a1a" stroke-width="1.0"/>
<text transform="translate(74.67,516.50) rotate(-90) scale(0.88,1)" font-size="7.0" text-anchor="end" fill="#000">TRBV11-2</text>
<rect x="75.19" y="501.20" width="2.98" height="1.90" fill="#a50026"/>
<rect x="78.17" y="501.20" width="2.98" height="1.90" fill="#29477a"/>
<line x1="78.17" y1="510.60" x2="78.17" y2="513.70" stroke="#1a1a1a" stroke-width="1.0"/>
<text transform="translate(80.62,516.50) rotate(-90) scale(0.88,1)" font-size="7.0" text-anchor="end" fill="#000">TRBV11-3</text>
<rect x="81.15" y="485.70" width="2.98" height="17.40" fill="#a50026"/>
<rect x="84.12" y="463.40" width="2.98" height="39.70" fill="#29477a"/>
<line x1="84.12" y1="510.60" x2="84.12" y2="513.70" stroke="#1a1a1a" stroke-width="1.0"/>
<text transform="translate(86.57,516.50) rotate(-90) scale(0.88,1)" font-size="7.0" text-anchor="end" fill="#000">TRBV12-3</text>
<rect x="87.10" y="484.90" width="2.98" height="18.20" fill="#a50026"/>
<rect x="90.08" y="448.90" width="2.98" height="54.20" fill="#29477a"/>
<line x1="90.08" y1="510.60" x2="90.08" y2="513.70" stroke="#1a1a1a" stroke-width="1.0"/>
<text transform="translate(92.53,516.50) rotate(-90) scale(0.88,1)" font-size="7.0" text-anchor="end" fill="#000">TRBV12-4</text>
<rect x="93.05" y="482.30" width="2.98" height="20.80" fill="#a50026"/>
<rect x="96.03" y="455.00" width="2.98" height="48.10" fill="#29477a"/>
<line x1="96.03" y1="510.60" x2="96.03" y2="513.70" stroke="#1a1a1a" stroke-width="1.0"/>
<text transform="translate(98.48,516.50) rotate(-90) scale(0.88,1)" font-size="7.0" text-anchor="end" fill="#000">TRBV12-5</text>
<rect x="101.99" y="499.10" width="2.98" height="4.00" fill="#29477a"/>
<line x1="101.99" y1="510.60" x2="101.99" y2="513.70" stroke="#1a1a1a" stroke-width="1.0"/>
<text transform="translate(104.44,516.50) rotate(-90) scale(0.88,1)" font-size="7.0" text-anchor="end" fill="#000">TRBV13</text>
<rect x="107.94" y="494.90" width="2.98" height="8.20" fill="#29477a"/>
<line x1="107.94" y1="510.60" x2="107.94" y2="513.70" stroke="#1a1a1a" stroke-width="1.0"/>
<text transform="translate(110.39,516.50) rotate(-90) scale(0.88,1)" font-size="7.0" text-anchor="end" fill="#000">TRBV14</text>
<rect x="110.92" y="502.00" width="2.98" height="1.10" fill="#a50026"/>
<rect x="113.89" y="494.90" width="2.98" height="8.20" fill="#29477a"/>
<line x1="113.89" y1="510.60" x2="113.89" y2="513.70" stroke="#1a1a1a" stroke-width="1.0"/>
<text transform="translate(116.34,516.50) rotate(-90) scale(0.88,1)" font-size="7.0" text-anchor="end" fill="#000">TRBV15</text>
<rect x="116.87" y="474.70" width="2.98" height="28.40" fill="#a50026"/>
<rect x="119.85" y="497.10" width="2.98" height="6.00" fill="#29477a"/>
<line x1="119.85" y1="510.60" x2="119.85" y2="513.70" stroke="#1a1a1a" stroke-width="1.0"/>
<text transform="translate(122.30,516.50) rotate(-90) scale(0.88,1)" font-size="7.0" text-anchor="end" fill="#000">TRBV18</text>
<rect x="122.82" y="469.20" width="2.98" height="33.90" fill="#a50026"/>
<rect x="125.80" y="449.00" width="2.98" height="54.10" fill="#29477a"/>
<line x1="125.80" y1="510.60" x2="125.80" y2="513.70" stroke="#1a1a1a" stroke-width="1.0"/>
<text transform="translate(128.25,516.50) rotate(-90) scale(0.88,1)" font-size="7.0" text-anchor="end" fill="#000">TRBV19</text>
<rect x="128.78" y="468.30" width="2.98" height="34.80" fill="#a50026"/>
<rect x="131.76" y="459.20" width="2.98" height="43.90" fill="#29477a"/>
<line x1="131.76" y1="510.60" x2="131.76" y2="513.70" stroke="#1a1a1a" stroke-width="1.0"/>
<text transform="translate(134.21,516.50) rotate(-90) scale(0.88,1)" font-size="7.0" text-anchor="end" fill="#000">TRBV2</text>
<rect x="134.73" y="440.70" width="2.98" height="62.40" fill="#a50026"/>
<rect x="137.71" y="440.70" width="2.98" height="62.40" fill="#29477a"/>
<line x1="137.71" y1="510.60" x2="137.71" y2="513.70" stroke="#1a1a1a" stroke-width="1.0"/>
<text transform="translate(140.16,516.50) rotate(-90) scale(0.88,1)" font-size="7.0" text-anchor="end" fill="#000">TRBV20-1</text>
<rect x="140.69" y="475.90" width="2.98" height="27.20" fill="#a50026"/>
<rect x="143.66" y="438.50" width="2.98" height="64.60" fill="#29477a"/>
<line x1="143.66" y1="510.60" x2="143.66" y2="513.70" stroke="#1a1a1a" stroke-width="1.0"/>
<text transform="translate(146.11,516.50) rotate(-90) scale(0.88,1)" font-size="7.0" text-anchor="end" fill="#000">TRBV24-1</text>
<rect x="146.64" y="486.80" width="2.98" height="16.30" fill="#a50026"/>
<rect x="149.62" y="490.70" width="2.98" height="12.40" fill="#29477a"/>
<line x1="149.62" y1="510.60" x2="149.62" y2="513.70" stroke="#1a1a1a" stroke-width="1.0"/>
<text transform="translate(152.07,516.50) rotate(-90) scale(0.88,1)" font-size="7.0" text-anchor="end" fill="#000">TRBV25-1</text>
<rect x="152.59" y="467.10" width="2.98" height="36.00" fill="#a50026"/>
<rect x="155.57" y="459.20" width="2.98" height="43.90" fill="#29477a"/>
<line x1="155.57" y1="510.60" x2="155.57" y2="513.70" stroke="#1a1a1a" stroke-width="1.0"/>
<text transform="translate(158.02,516.50) rotate(-90) scale(0.88,1)" font-size="7.0" text-anchor="end" fill="#000">TRBV27</text>
<rect x="158.55" y="493.80" width="2.98" height="9.30" fill="#a50026"/>
<rect x="161.53" y="476.20" width="2.98" height="26.90" fill="#29477a"/>
<line x1="161.53" y1="510.60" x2="161.53" y2="513.70" stroke="#1a1a1a" stroke-width="1.0"/>
<text transform="translate(163.98,516.50) rotate(-90) scale(0.88,1)" font-size="7.0" text-anchor="end" fill="#000">TRBV29-1</text>
<rect x="164.50" y="496.80" width="2.98" height="6.30" fill="#a50026"/>
<rect x="167.48" y="497.20" width="2.98" height="5.90" fill="#29477a"/>
<line x1="167.48" y1="510.60" x2="167.48" y2="513.70" stroke="#1a1a1a" stroke-width="1.0"/>
<text transform="translate(169.93,516.50) rotate(-90) scale(0.88,1)" font-size="7.0" text-anchor="end" fill="#000">TRBV3-1</text>
<rect x="170.46" y="492.70" width="2.98" height="10.40" fill="#a50026"/>
<rect x="173.43" y="493.40" width="2.98" height="9.70" fill="#29477a"/>
<line x1="173.43" y1="510.60" x2="173.43" y2="513.70" stroke="#1a1a1a" stroke-width="1.0"/>
<text transform="translate(175.88,516.50) rotate(-90) scale(0.88,1)" font-size="7.0" text-anchor="end" fill="#000">TRBV30</text>
<rect x="176.41" y="386.90" width="2.98" height="116.20" fill="#a50026"/>
<rect x="179.39" y="455.30" width="2.98" height="47.80" fill="#29477a"/>
<line x1="179.39" y1="510.60" x2="179.39" y2="513.70" stroke="#1a1a1a" stroke-width="1.0"/>
<text transform="translate(181.84,516.50) rotate(-90) scale(0.88,1)" font-size="7.0" text-anchor="end" fill="#000">TRBV4-1</text>
<rect x="182.37" y="440.20" width="2.98" height="62.90" fill="#a50026"/>
<rect x="185.34" y="413.60" width="2.98" height="89.50" fill="#29477a"/>
<line x1="185.34" y1="510.60" x2="185.34" y2="513.70" stroke="#1a1a1a" stroke-width="1.0"/>
<text transform="translate(187.79,516.50) rotate(-90) scale(0.88,1)" font-size="7.0" text-anchor="end" fill="#000">TRBV4-2</text>
<rect x="188.32" y="446.60" width="2.98" height="56.50" fill="#a50026"/>
<rect x="191.30" y="403.10" width="2.98" height="100.00" fill="#29477a"/>
<line x1="191.30" y1="510.60" x2="191.30" y2="513.70" stroke="#1a1a1a" stroke-width="1.0"/>
<text transform="translate(193.75,516.50) rotate(-90) scale(0.88,1)" font-size="7.0" text-anchor="end" fill="#000">TRBV4-3</text>
<rect x="194.27" y="380.50" width="2.98" height="122.60" fill="#a50026"/>
<rect x="197.25" y="442.90" width="2.98" height="60.20" fill="#29477a"/>
<line x1="197.25" y1="510.60" x2="197.25" y2="513.70" stroke="#1a1a1a" stroke-width="1.0"/>
<text transform="translate(199.70,516.50) rotate(-90) scale(0.88,1)" font-size="7.0" text-anchor="end" fill="#000">TRBV5-1</text>
<rect x="200.23" y="490.50" width="2.98" height="12.60" fill="#a50026"/>
<rect x="203.20" y="491.20" width="2.98" height="11.90" fill="#29477a"/>
<line x1="203.20" y1="510.60" x2="203.20" y2="513.70" stroke="#1a1a1a" stroke-width="1.0"/>
<text transform="translate(205.65,516.50) rotate(-90) scale(0.88,1)" font-size="7.0" text-anchor="end" fill="#000">TRBV5-4</text>
<rect x="206.18" y="471.50" width="2.98" height="31.60" fill="#a50026"/>
<rect x="209.16" y="487.00" width="2.98" height="16.10" fill="#29477a"/>
<line x1="209.16" y1="510.60" x2="209.16" y2="513.70" stroke="#1a1a1a" stroke-width="1.0"/>
<text transform="translate(211.61,516.50) rotate(-90) scale(0.88,1)" font-size="7.0" text-anchor="end" fill="#000">TRBV5-5</text>
<rect x="212.13" y="465.00" width="2.98" height="38.10" fill="#a50026"/>
<rect x="215.11" y="455.30" width="2.98" height="47.80" fill="#29477a"/>
<line x1="215.11" y1="510.60" x2="215.11" y2="513.70" stroke="#1a1a1a" stroke-width="1.0"/>
<text transform="translate(217.56,516.50) rotate(-90) scale(0.88,1)" font-size="7.0" text-anchor="end" fill="#000">TRBV5-6</text>
<rect x="218.09" y="496.10" width="2.98" height="7.00" fill="#a50026"/>
<rect x="221.07" y="487.00" width="2.98" height="16.10" fill="#29477a"/>
<line x1="221.07" y1="510.60" x2="221.07" y2="513.70" stroke="#1a1a1a" stroke-width="1.0"/>
<text transform="translate(223.52,516.50) rotate(-90) scale(0.88,1)" font-size="7.0" text-anchor="end" fill="#000">TRBV5-8</text>
<rect x="224.04" y="485.00" width="2.98" height="18.10" fill="#a50026"/>
<rect x="227.02" y="461.60" width="2.98" height="41.50" fill="#29477a"/>
<line x1="227.02" y1="510.60" x2="227.02" y2="513.70" stroke="#1a1a1a" stroke-width="1.0"/>
<text transform="translate(229.47,516.50) rotate(-90) scale(0.88,1)" font-size="7.0" text-anchor="end" fill="#000">TRBV6-1</text>
<rect x="230.00" y="455.30" width="2.98" height="47.80" fill="#a50026"/>
<rect x="232.97" y="455.30" width="2.98" height="47.80" fill="#29477a"/>
<line x1="232.97" y1="510.60" x2="232.97" y2="513.70" stroke="#1a1a1a" stroke-width="1.0"/>
<text transform="translate(235.42,516.50) rotate(-90) scale(0.88,1)" font-size="7.0" text-anchor="end" fill="#000">TRBV6-3</text>
<rect x="238.93" y="497.40" width="2.98" height="5.70" fill="#29477a"/>
<line x1="238.93" y1="510.60" x2="238.93" y2="513.70" stroke="#1a1a1a" stroke-width="1.0"/>
<text transform="translate(241.38,516.50) rotate(-90) scale(0.88,1)" font-size="7.0" text-anchor="end" fill="#000">TRBV6-4</text>
<rect x="241.91" y="445.40" width="2.98" height="57.70" fill="#a50026"/>
<rect x="244.88" y="453.10" width="2.98" height="50.00" fill="#29477a"/>
<line x1="244.88" y1="510.60" x2="244.88" y2="513.70" stroke="#1a1a1a" stroke-width="1.0"/>
<text transform="translate(247.33,516.50) rotate(-90) scale(0.88,1)" font-size="7.0" text-anchor="end" fill="#000">TRBV6-5</text>
<rect x="247.86" y="493.60" width="2.98" height="9.50" fill="#a50026"/>
<rect x="250.84" y="467.60" width="2.98" height="35.50" fill="#29477a"/>
<line x1="250.84" y1="510.60" x2="250.84" y2="513.70" stroke="#1a1a1a" stroke-width="1.0"/>
<text transform="translate(253.29,516.50) rotate(-90) scale(0.88,1)" font-size="7.0" text-anchor="end" fill="#000">TRBV6-6</text>
<rect x="253.81" y="477.80" width="2.98" height="25.30" fill="#a50026"/>
<rect x="256.79" y="463.30" width="2.98" height="39.80" fill="#29477a"/>
<line x1="256.79" y1="510.60" x2="256.79" y2="513.70" stroke="#1a1a1a" stroke-width="1.0"/>
<text transform="translate(259.24,516.50) rotate(-90) scale(0.88,1)" font-size="7.0" text-anchor="end" fill="#000">TRBV7-2</text>
<rect x="259.77" y="497.60" width="2.98" height="5.50" fill="#a50026"/>
<rect x="262.74" y="474.10" width="2.98" height="29.00" fill="#29477a"/>
<line x1="262.74" y1="510.60" x2="262.74" y2="513.70" stroke="#1a1a1a" stroke-width="1.0"/>
<text transform="translate(265.19,516.50) rotate(-90) scale(0.88,1)" font-size="7.0" text-anchor="end" fill="#000">TRBV7-3</text>
<rect x="265.72" y="500.20" width="2.98" height="2.90" fill="#a50026"/>
<rect x="268.70" y="494.80" width="2.98" height="8.30" fill="#29477a"/>
<line x1="268.70" y1="510.60" x2="268.70" y2="513.70" stroke="#1a1a1a" stroke-width="1.0"/>
<text transform="translate(271.15,516.50) rotate(-90) scale(0.88,1)" font-size="7.0" text-anchor="end" fill="#000">TRBV7-6</text>
<rect x="271.68" y="501.00" width="2.98" height="2.10" fill="#a50026"/>
<rect x="274.65" y="501.00" width="2.98" height="2.10" fill="#29477a"/>
<line x1="274.65" y1="510.60" x2="274.65" y2="513.70" stroke="#1a1a1a" stroke-width="1.0"/>
<text transform="translate(277.10,516.50) rotate(-90) scale(0.88,1)" font-size="7.0" text-anchor="end" fill="#000">TRBV7-7</text>
<rect x="277.63" y="493.40" width="2.98" height="9.70" fill="#a50026"/>
<rect x="280.61" y="494.80" width="2.98" height="8.30" fill="#29477a"/>
<line x1="280.61" y1="510.60" x2="280.61" y2="513.70" stroke="#1a1a1a" stroke-width="1.0"/>
<text transform="translate(283.06,516.50) rotate(-90) scale(0.88,1)" font-size="7.0" text-anchor="end" fill="#000">TRBV7-8</text>
<rect x="283.58" y="438.60" width="2.98" height="64.50" fill="#a50026"/>
<rect x="286.56" y="450.80" width="2.98" height="52.30" fill="#29477a"/>
<line x1="286.56" y1="510.60" x2="286.56" y2="513.70" stroke="#1a1a1a" stroke-width="1.0"/>
<text transform="translate(289.01,516.50) rotate(-90) scale(0.88,1)" font-size="7.0" text-anchor="end" fill="#000">TRBV7-9</text>
<rect x="289.54" y="365.50" width="2.98" height="137.60" fill="#a50026"/>
<rect x="292.51" y="463.30" width="2.98" height="39.80" fill="#29477a"/>
<line x1="292.51" y1="510.60" x2="292.51" y2="513.70" stroke="#1a1a1a" stroke-width="1.0"/>
<text transform="translate(294.96,516.50) rotate(-90) scale(0.88,1)" font-size="7.0" text-anchor="end" fill="#000">TRBV9</text>
<text transform="translate(170.50,555.00) scale(0.84,1)" font-size="6.6" text-anchor="middle" fill="#000">Gene</text>
<rect x="309.20" y="373.50" width="4.00" height="4.00" fill="#a50026"/>
<rect x="309.20" y="383.50" width="4.00" height="4.00" fill="#2f4b7c"/>
<text transform="translate(316.20,378.00) scale(0.88,1)" font-size="7.0" text-anchor="start" fill="#000">Naive</text>
<text transform="translate(316.20,388.00) scale(0.88,1)" font-size="7.0" text-anchor="start" fill="#000">SR1</text>
<rect x="0" y="0" width="520" height="1.1" fill="#000"/><rect x="0" y="0" width="1.1" height="564" fill="#000"/><rect x="518.9" y="0" width="1.1" height="564" fill="#000"/><rect x="0" y="562.9" width="520" height="1.1" fill="#000"/>
</svg>
</body></html>
